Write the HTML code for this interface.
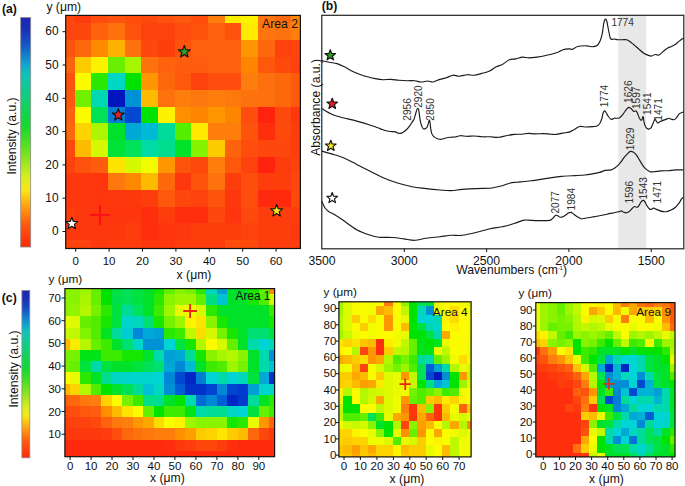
<!DOCTYPE html>
<html><head><meta charset="utf-8"><title>figure</title>
<style>html,body{margin:0;padding:0;background:#fff}svg{display:block}</style></head>
<body>
<svg width="685" height="486" viewBox="0 0 685 486" font-family="'Liberation Sans', sans-serif">
<defs><linearGradient id="cb" x1="0" y1="0" x2="0" y2="1">
<stop offset="0%" stop-color="#1a28b4"/>
<stop offset="5%" stop-color="#1a2eb8"/>
<stop offset="12%" stop-color="#1458c8"/>
<stop offset="21%" stop-color="#10a8d0"/>
<stop offset="25%" stop-color="#10c4b8"/>
<stop offset="36%" stop-color="#10d070"/>
<stop offset="47%" stop-color="#14d830"/>
<stop offset="55%" stop-color="#50e020"/>
<stop offset="62%" stop-color="#90e420"/>
<stop offset="69%" stop-color="#d4ec20"/>
<stop offset="75%" stop-color="#f8e818"/>
<stop offset="83%" stop-color="#ff9a10"/>
<stop offset="90%" stop-color="#ff5a10"/>
<stop offset="100%" stop-color="#ff2808"/>
</linearGradient><filter id="bl" x="-5%" y="-5%" width="110%" height="110%"><feGaussianBlur stdDeviation="0.7"/></filter></defs>
<rect width="685" height="486" fill="#fff"/>
<clipPath id="clipA"><rect x="65.70" y="15.40" width="234.70" height="233.10"/></clipPath>
<g clip-path="url(#clipA)"><g filter="url(#bl)" shape-rendering="crispEdges">
<rect x="62.70" y="12.40" width="240.70" height="239.10" fill="#55ee04"/>
<rect x="62.40" y="12.10" width="12.90" height="11.90" fill="#fe440a"/>
<rect x="74.70" y="12.10" width="17.25" height="11.90" fill="#fe3b0a"/>
<rect x="91.35" y="12.10" width="17.25" height="11.90" fill="#fe4e09"/>
<rect x="108.00" y="12.10" width="17.25" height="11.90" fill="#fe5309"/>
<rect x="124.65" y="12.10" width="17.25" height="11.90" fill="#fe4e09"/>
<rect x="141.30" y="12.10" width="17.25" height="11.90" fill="#fe4a09"/>
<rect x="157.95" y="12.10" width="17.25" height="11.90" fill="#fe5309"/>
<rect x="174.60" y="12.10" width="17.25" height="11.90" fill="#fe5908"/>
<rect x="191.25" y="12.10" width="17.25" height="11.90" fill="#fe4e09"/>
<rect x="207.90" y="12.10" width="17.25" height="11.90" fill="#fe7e07"/>
<rect x="224.55" y="12.10" width="17.25" height="11.90" fill="#fdec04"/>
<rect x="241.20" y="12.10" width="17.25" height="11.90" fill="#fdf304"/>
<rect x="257.85" y="12.10" width="17.25" height="11.90" fill="#fe7407"/>
<rect x="274.50" y="12.10" width="17.25" height="11.90" fill="#fe6808"/>
<rect x="291.15" y="12.10" width="12.55" height="11.90" fill="#fe8506"/>
<rect x="62.40" y="23.40" width="12.90" height="17.25" fill="#fe440a"/>
<rect x="74.70" y="23.40" width="17.25" height="17.25" fill="#fe4609"/>
<rect x="91.35" y="23.40" width="17.25" height="17.25" fill="#fe6208"/>
<rect x="108.00" y="23.40" width="17.25" height="17.25" fill="#fe7207"/>
<rect x="124.65" y="23.40" width="17.25" height="17.25" fill="#fe5309"/>
<rect x="141.30" y="23.40" width="33.90" height="17.25" fill="#fe420a"/>
<rect x="174.60" y="23.40" width="17.25" height="17.25" fill="#fe4e09"/>
<rect x="191.25" y="23.40" width="17.25" height="17.25" fill="#fe5309"/>
<rect x="207.90" y="23.40" width="17.25" height="17.25" fill="#fe6208"/>
<rect x="224.55" y="23.40" width="17.25" height="17.25" fill="#fe5309"/>
<rect x="241.20" y="23.40" width="17.25" height="17.25" fill="#fdec04"/>
<rect x="257.85" y="23.40" width="17.25" height="17.25" fill="#fe7407"/>
<rect x="274.50" y="23.40" width="17.25" height="17.25" fill="#fe7207"/>
<rect x="291.15" y="23.40" width="12.55" height="17.25" fill="#fe7e07"/>
<rect x="62.40" y="40.05" width="12.90" height="17.25" fill="#fe5309"/>
<rect x="74.70" y="40.05" width="17.25" height="17.25" fill="#fe6808"/>
<rect x="91.35" y="40.05" width="17.25" height="17.25" fill="#fe8a06"/>
<rect x="108.00" y="40.05" width="17.25" height="17.25" fill="#fdb204"/>
<rect x="124.65" y="40.05" width="17.25" height="17.25" fill="#fe7207"/>
<rect x="141.30" y="40.05" width="17.25" height="17.25" fill="#fe4609"/>
<rect x="157.95" y="40.05" width="17.25" height="17.25" fill="#fe3d0a"/>
<rect x="174.60" y="40.05" width="17.25" height="17.25" fill="#fe5309"/>
<rect x="191.25" y="40.05" width="50.55" height="17.25" fill="#fe6208"/>
<rect x="241.20" y="40.05" width="17.25" height="17.25" fill="#fd9606"/>
<rect x="257.85" y="40.05" width="17.25" height="17.25" fill="#fe6808"/>
<rect x="274.50" y="40.05" width="17.25" height="17.25" fill="#fe420a"/>
<rect x="291.15" y="40.05" width="12.55" height="17.25" fill="#fe440a"/>
<rect x="62.40" y="56.70" width="12.90" height="17.25" fill="#fe6208"/>
<rect x="74.70" y="56.70" width="17.25" height="17.25" fill="#fdcc04"/>
<rect x="91.35" y="56.70" width="17.25" height="17.25" fill="#fdf204"/>
<rect x="108.00" y="56.70" width="17.25" height="17.25" fill="#69f004"/>
<rect x="124.65" y="56.70" width="17.25" height="17.25" fill="#a7f604"/>
<rect x="141.30" y="56.70" width="17.25" height="17.25" fill="#fe7207"/>
<rect x="157.95" y="56.70" width="17.25" height="17.25" fill="#fe6208"/>
<rect x="174.60" y="56.70" width="33.90" height="17.25" fill="#fe5d08"/>
<rect x="207.90" y="56.70" width="33.90" height="17.25" fill="#fe6208"/>
<rect x="241.20" y="56.70" width="17.25" height="17.25" fill="#fe8506"/>
<rect x="257.85" y="56.70" width="17.25" height="17.25" fill="#fe5908"/>
<rect x="274.50" y="56.70" width="17.25" height="17.25" fill="#fe4a09"/>
<rect x="291.15" y="56.70" width="12.55" height="17.25" fill="#fe420a"/>
<rect x="62.40" y="73.35" width="12.90" height="17.25" fill="#fe5109"/>
<rect x="74.70" y="73.35" width="17.25" height="17.25" fill="#fcfc04"/>
<rect x="91.35" y="73.35" width="17.25" height="17.25" fill="#2ae803"/>
<rect x="108.00" y="73.35" width="17.25" height="17.25" fill="#03d6c4"/>
<rect x="124.65" y="73.35" width="17.25" height="17.25" fill="#03e303"/>
<rect x="141.30" y="73.35" width="17.25" height="17.25" fill="#fd9606"/>
<rect x="157.95" y="73.35" width="17.25" height="17.25" fill="#fe6808"/>
<rect x="174.60" y="73.35" width="17.25" height="17.25" fill="#fe5908"/>
<rect x="191.25" y="73.35" width="17.25" height="17.25" fill="#fe420a"/>
<rect x="207.90" y="73.35" width="33.90" height="17.25" fill="#fe4e09"/>
<rect x="241.20" y="73.35" width="17.25" height="17.25" fill="#fe7e07"/>
<rect x="257.85" y="73.35" width="17.25" height="17.25" fill="#fe7007"/>
<rect x="274.50" y="73.35" width="17.25" height="17.25" fill="#fe6808"/>
<rect x="291.15" y="73.35" width="12.55" height="17.25" fill="#fe5908"/>
<rect x="62.40" y="90.00" width="12.90" height="17.25" fill="#fe5908"/>
<rect x="74.70" y="90.00" width="17.25" height="17.25" fill="#71f104"/>
<rect x="91.35" y="90.00" width="17.25" height="17.25" fill="#03d8b4"/>
<rect x="108.00" y="90.00" width="17.25" height="17.25" fill="#0314bc"/>
<rect x="124.65" y="90.00" width="17.25" height="17.25" fill="#0392d5"/>
<rect x="141.30" y="90.00" width="17.25" height="17.25" fill="#fdbb04"/>
<rect x="157.95" y="90.00" width="17.25" height="17.25" fill="#fe7207"/>
<rect x="174.60" y="90.00" width="17.25" height="17.25" fill="#fe7e07"/>
<rect x="191.25" y="90.00" width="17.25" height="17.25" fill="#fe7907"/>
<rect x="207.90" y="90.00" width="17.25" height="17.25" fill="#fe7e07"/>
<rect x="224.55" y="90.00" width="17.25" height="17.25" fill="#fe7907"/>
<rect x="241.20" y="90.00" width="17.25" height="17.25" fill="#fe7207"/>
<rect x="257.85" y="90.00" width="17.25" height="17.25" fill="#fe7007"/>
<rect x="274.50" y="90.00" width="17.25" height="17.25" fill="#fe6808"/>
<rect x="291.15" y="90.00" width="12.55" height="17.25" fill="#fe5908"/>
<rect x="62.40" y="106.65" width="12.90" height="17.25" fill="#fe6008"/>
<rect x="74.70" y="106.65" width="17.25" height="17.25" fill="#fcfc04"/>
<rect x="91.35" y="106.65" width="17.25" height="17.25" fill="#03e159"/>
<rect x="108.00" y="106.65" width="17.25" height="17.25" fill="#037ed6"/>
<rect x="124.65" y="106.65" width="17.25" height="17.25" fill="#034ad0"/>
<rect x="141.30" y="106.65" width="17.25" height="17.25" fill="#03e303"/>
<rect x="157.95" y="106.65" width="17.25" height="17.25" fill="#fdf304"/>
<rect x="174.60" y="106.65" width="17.25" height="17.25" fill="#fe9006"/>
<rect x="191.25" y="106.65" width="17.25" height="17.25" fill="#fe8506"/>
<rect x="207.90" y="106.65" width="17.25" height="17.25" fill="#fd9606"/>
<rect x="224.55" y="106.65" width="17.25" height="17.25" fill="#fe8506"/>
<rect x="241.20" y="106.65" width="17.25" height="17.25" fill="#fe4e09"/>
<rect x="257.85" y="106.65" width="17.25" height="17.25" fill="#ff220b"/>
<rect x="274.50" y="106.65" width="17.25" height="17.25" fill="#fe4a09"/>
<rect x="291.15" y="106.65" width="12.55" height="17.25" fill="#fe380a"/>
<rect x="62.40" y="123.30" width="12.90" height="17.25" fill="#fe6808"/>
<rect x="74.70" y="123.30" width="17.25" height="17.25" fill="#fdd404"/>
<rect x="91.35" y="123.30" width="17.25" height="17.25" fill="#acf604"/>
<rect x="108.00" y="123.30" width="17.25" height="17.25" fill="#03e229"/>
<rect x="124.65" y="123.30" width="17.25" height="17.25" fill="#03a9d5"/>
<rect x="141.30" y="123.30" width="17.25" height="17.25" fill="#03b9d4"/>
<rect x="157.95" y="123.30" width="17.25" height="17.25" fill="#03db9c"/>
<rect x="174.60" y="123.30" width="17.25" height="17.25" fill="#55ee04"/>
<rect x="191.25" y="123.30" width="17.25" height="17.25" fill="#fdea04"/>
<rect x="207.90" y="123.30" width="33.90" height="17.25" fill="#fe7e07"/>
<rect x="241.20" y="123.30" width="17.25" height="17.25" fill="#fe5309"/>
<rect x="257.85" y="123.30" width="17.25" height="17.25" fill="#ff2f0b"/>
<rect x="274.50" y="123.30" width="17.25" height="17.25" fill="#fe4a09"/>
<rect x="291.15" y="123.30" width="12.55" height="17.25" fill="#fe3d0a"/>
<rect x="62.40" y="139.95" width="12.90" height="17.25" fill="#fe4609"/>
<rect x="74.70" y="139.95" width="17.25" height="17.25" fill="#fdbb04"/>
<rect x="91.35" y="139.95" width="17.25" height="17.25" fill="#d5f904"/>
<rect x="108.00" y="139.95" width="17.25" height="17.25" fill="#03e239"/>
<rect x="124.65" y="139.95" width="17.25" height="17.25" fill="#03e15c"/>
<rect x="141.30" y="139.95" width="17.25" height="17.25" fill="#03daa4"/>
<rect x="157.95" y="139.95" width="17.25" height="17.25" fill="#03dd8f"/>
<rect x="174.60" y="139.95" width="17.25" height="17.25" fill="#03e22a"/>
<rect x="191.25" y="139.95" width="17.25" height="17.25" fill="#85f304"/>
<rect x="207.90" y="139.95" width="17.25" height="17.25" fill="#fdcc04"/>
<rect x="224.55" y="139.95" width="17.25" height="17.25" fill="#fe6208"/>
<rect x="241.20" y="139.95" width="17.25" height="17.25" fill="#fe4e09"/>
<rect x="257.85" y="139.95" width="33.90" height="17.25" fill="#fe4609"/>
<rect x="291.15" y="139.95" width="12.55" height="17.25" fill="#fe3d0a"/>
<rect x="62.40" y="156.60" width="12.90" height="17.25" fill="#fe420a"/>
<rect x="74.70" y="156.60" width="17.25" height="17.25" fill="#fe5309"/>
<rect x="91.35" y="156.60" width="17.25" height="17.25" fill="#fe5d08"/>
<rect x="108.00" y="156.60" width="17.25" height="17.25" fill="#fde504"/>
<rect x="124.65" y="156.60" width="17.25" height="17.25" fill="#d4f904"/>
<rect x="141.30" y="156.60" width="17.25" height="17.25" fill="#f2fc04"/>
<rect x="157.95" y="156.60" width="17.25" height="17.25" fill="#fd9606"/>
<rect x="174.60" y="156.60" width="17.25" height="17.25" fill="#fe5309"/>
<rect x="191.25" y="156.60" width="17.25" height="17.25" fill="#fe4a09"/>
<rect x="207.90" y="156.60" width="17.25" height="17.25" fill="#fe7e07"/>
<rect x="224.55" y="156.60" width="17.25" height="17.25" fill="#fe5908"/>
<rect x="241.20" y="156.60" width="17.25" height="17.25" fill="#fe420a"/>
<rect x="257.85" y="156.60" width="17.25" height="17.25" fill="#ff220b"/>
<rect x="274.50" y="156.60" width="17.25" height="17.25" fill="#fe3d0a"/>
<rect x="291.15" y="156.60" width="12.55" height="17.25" fill="#fe420a"/>
<rect x="62.40" y="173.25" width="29.55" height="17.25" fill="#fe380a"/>
<rect x="91.35" y="173.25" width="17.25" height="17.25" fill="#ff340a"/>
<rect x="108.00" y="173.25" width="17.25" height="17.25" fill="#fe7807"/>
<rect x="124.65" y="173.25" width="17.25" height="17.25" fill="#fe8906"/>
<rect x="141.30" y="173.25" width="17.25" height="17.25" fill="#fdbb04"/>
<rect x="157.95" y="173.25" width="17.25" height="17.25" fill="#fe6808"/>
<rect x="174.60" y="173.25" width="17.25" height="17.25" fill="#fe380a"/>
<rect x="191.25" y="173.25" width="17.25" height="17.25" fill="#fe5309"/>
<rect x="207.90" y="173.25" width="17.25" height="17.25" fill="#fe7207"/>
<rect x="224.55" y="173.25" width="17.25" height="17.25" fill="#fe3d0a"/>
<rect x="241.20" y="173.25" width="17.25" height="17.25" fill="#fe4e09"/>
<rect x="257.85" y="173.25" width="33.90" height="17.25" fill="#fe3d0a"/>
<rect x="291.15" y="173.25" width="12.55" height="17.25" fill="#fe4609"/>
<rect x="62.40" y="189.90" width="29.55" height="17.25" fill="#fe380a"/>
<rect x="91.35" y="189.90" width="17.25" height="17.25" fill="#ff340a"/>
<rect x="108.00" y="189.90" width="33.90" height="17.25" fill="#fe380a"/>
<rect x="141.30" y="189.90" width="17.25" height="17.25" fill="#fe3d0a"/>
<rect x="157.95" y="189.90" width="17.25" height="17.25" fill="#fe5908"/>
<rect x="174.60" y="189.90" width="17.25" height="17.25" fill="#fe4609"/>
<rect x="191.25" y="189.90" width="17.25" height="17.25" fill="#fe420a"/>
<rect x="207.90" y="189.90" width="17.25" height="17.25" fill="#fe5309"/>
<rect x="224.55" y="189.90" width="17.25" height="17.25" fill="#fe380a"/>
<rect x="241.20" y="189.90" width="17.25" height="17.25" fill="#fe4e09"/>
<rect x="257.85" y="189.90" width="33.90" height="17.25" fill="#ff2a0b"/>
<rect x="291.15" y="189.90" width="12.55" height="17.25" fill="#fe4a09"/>
<rect x="62.40" y="206.55" width="12.90" height="17.25" fill="#fe3d0a"/>
<rect x="74.70" y="206.55" width="33.90" height="17.25" fill="#fe380a"/>
<rect x="108.00" y="206.55" width="33.90" height="17.25" fill="#ff340a"/>
<rect x="141.30" y="206.55" width="17.25" height="17.25" fill="#ff2f0b"/>
<rect x="157.95" y="206.55" width="17.25" height="17.25" fill="#fe3d0a"/>
<rect x="174.60" y="206.55" width="33.90" height="17.25" fill="#ff2f0b"/>
<rect x="207.90" y="206.55" width="17.25" height="17.25" fill="#fe4609"/>
<rect x="224.55" y="206.55" width="17.25" height="17.25" fill="#ff340a"/>
<rect x="241.20" y="206.55" width="17.25" height="17.25" fill="#fe4a09"/>
<rect x="257.85" y="206.55" width="45.85" height="17.25" fill="#fe3d0a"/>
<rect x="62.40" y="223.20" width="62.85" height="17.25" fill="#fe380a"/>
<rect x="124.65" y="223.20" width="17.25" height="17.25" fill="#fe3d0a"/>
<rect x="141.30" y="223.20" width="17.25" height="17.25" fill="#ff2f0b"/>
<rect x="157.95" y="223.20" width="17.25" height="17.25" fill="#ff340a"/>
<rect x="174.60" y="223.20" width="17.25" height="17.25" fill="#fe380a"/>
<rect x="191.25" y="223.20" width="50.55" height="17.25" fill="#fe3d0a"/>
<rect x="241.20" y="223.20" width="17.25" height="17.25" fill="#fe420a"/>
<rect x="257.85" y="223.20" width="33.90" height="17.25" fill="#fe3d0a"/>
<rect x="291.15" y="223.20" width="12.55" height="17.25" fill="#fe380a"/>
<rect x="62.40" y="239.85" width="29.55" height="11.95" fill="#fe420a"/>
<rect x="91.35" y="239.85" width="17.25" height="11.95" fill="#fe380a"/>
<rect x="108.00" y="239.85" width="33.90" height="11.95" fill="#fe3d0a"/>
<rect x="141.30" y="239.85" width="33.90" height="11.95" fill="#fe380a"/>
<rect x="174.60" y="239.85" width="50.55" height="11.95" fill="#fe3d0a"/>
<rect x="224.55" y="239.85" width="17.25" height="11.95" fill="#fe4e09"/>
<rect x="241.20" y="239.85" width="17.25" height="11.95" fill="#fe4a09"/>
<rect x="257.85" y="239.85" width="45.85" height="11.95" fill="#fe3d0a"/>
</g></g>
<rect x="65.7" y="15.4" width="234.7" height="233.1" fill="none" stroke="#111" stroke-width="1.2"/>
<path d="M62.5 231.5H65.7" stroke="#111" stroke-width="1"/>
<text x="58.6" y="235.2" text-anchor="end" font-size="11.9" font-weight="normal" fill="#111">0</text>
<path d="M75.7 248.5V251.7" stroke="#111" stroke-width="1"/>
<text x="75.7" y="265.3" text-anchor="middle" font-size="11.5" font-weight="normal" fill="#111">0</text>
<path d="M62.5 198.2H65.7" stroke="#111" stroke-width="1"/>
<text x="58.6" y="201.9" text-anchor="end" font-size="11.9" font-weight="normal" fill="#111">10</text>
<path d="M109.1 248.5V251.7" stroke="#111" stroke-width="1"/>
<text x="109.1" y="265.3" text-anchor="middle" font-size="11.5" font-weight="normal" fill="#111">10</text>
<path d="M62.5 164.9H65.7" stroke="#111" stroke-width="1"/>
<text x="58.6" y="168.6" text-anchor="end" font-size="11.9" font-weight="normal" fill="#111">20</text>
<path d="M142.5 248.5V251.7" stroke="#111" stroke-width="1"/>
<text x="142.5" y="265.3" text-anchor="middle" font-size="11.5" font-weight="normal" fill="#111">20</text>
<path d="M62.5 131.6H65.7" stroke="#111" stroke-width="1"/>
<text x="58.6" y="135.3" text-anchor="end" font-size="11.9" font-weight="normal" fill="#111">30</text>
<path d="M175.9 248.5V251.7" stroke="#111" stroke-width="1"/>
<text x="175.9" y="265.3" text-anchor="middle" font-size="11.5" font-weight="normal" fill="#111">30</text>
<path d="M62.5 98.3H65.7" stroke="#111" stroke-width="1"/>
<text x="58.6" y="102.0" text-anchor="end" font-size="11.9" font-weight="normal" fill="#111">40</text>
<path d="M209.3 248.5V251.7" stroke="#111" stroke-width="1"/>
<text x="209.3" y="265.3" text-anchor="middle" font-size="11.5" font-weight="normal" fill="#111">40</text>
<path d="M62.5 65.0H65.7" stroke="#111" stroke-width="1"/>
<text x="58.6" y="68.7" text-anchor="end" font-size="11.9" font-weight="normal" fill="#111">50</text>
<path d="M242.7 248.5V251.7" stroke="#111" stroke-width="1"/>
<text x="242.7" y="265.3" text-anchor="middle" font-size="11.5" font-weight="normal" fill="#111">50</text>
<path d="M62.5 31.7H65.7" stroke="#111" stroke-width="1"/>
<text x="58.6" y="35.4" text-anchor="end" font-size="11.9" font-weight="normal" fill="#111">60</text>
<path d="M276.1 248.5V251.7" stroke="#111" stroke-width="1"/>
<text x="276.1" y="265.3" text-anchor="middle" font-size="11.5" font-weight="normal" fill="#111">60</text>
<text x="46.4" y="10.6" text-anchor="start" font-size="12.2" font-weight="normal" fill="#111">y (μm)</text>
<text x="194.0" y="278.6" text-anchor="middle" font-size="12.2" font-weight="normal" fill="#111">x (μm)</text>
<text x="2.0" y="12.8" text-anchor="start" font-size="12.2" font-weight="bold" fill="#111">(a)</text>
<text x="298.0" y="28.0" text-anchor="end" font-size="12.2" font-weight="normal" fill="#111">Area 2</text>
<rect x="20.7" y="17.5" width="10" height="229.5" fill="url(#cb)" stroke="#8a8a8a" stroke-width="0.8"/>
<text transform="translate(16.3 136) rotate(-90)" text-anchor="middle" font-size="12.2" fill="#111">Intensity (a.u.)</text>
<path d="M89.9 215.0H109.9M99.9 205.0V225.0" stroke="#f8101a" stroke-width="2.0" fill="none"/>
<polygon points="71.80,217.30 73.36,221.46 77.79,221.65 74.32,224.42 75.50,228.70 71.80,226.25 68.10,228.70 69.28,224.42 65.81,221.65 70.24,221.46" fill="#ffffff" stroke="#111" stroke-width="1.15" stroke-linejoin="round"/>
<polygon points="276.60,204.50 278.16,208.66 282.59,208.85 279.12,211.62 280.30,215.90 276.60,213.45 272.90,215.90 274.08,211.62 270.61,208.85 275.04,208.66" fill="#f5e61e" stroke="#111" stroke-width="1.15" stroke-linejoin="round"/>
<polygon points="118.30,108.70 119.86,112.86 124.29,113.05 120.82,115.82 122.00,120.10 118.30,117.65 114.60,120.10 115.78,115.82 112.31,113.05 116.74,112.86" fill="#e8202a" stroke="#111" stroke-width="1.15" stroke-linejoin="round"/>
<polygon points="184.30,45.50 185.86,49.66 190.29,49.85 186.82,52.62 188.00,56.90 184.30,54.45 180.60,56.90 181.78,52.62 178.31,49.85 182.74,49.66" fill="#2f9e1e" stroke="#111" stroke-width="1.15" stroke-linejoin="round"/>
<rect x="618.4" y="15.3" width="27.8" height="233.5" fill="#e8e8e8"/>
<path d="M321.7 60.5C322.9 60.8 326.6 61.8 329.2 62.3C331.8 62.8 334.5 62.8 337.1 63.6C339.7 64.4 342.4 65.8 345.0 67.1C347.6 68.4 350.4 70.3 352.8 71.5C355.2 72.7 357.0 73.3 359.4 74.2C361.8 75.1 364.7 76.1 367.3 76.8C369.9 77.5 372.6 78.1 375.2 78.6C377.8 79.1 380.5 79.6 383.1 79.7C385.7 79.8 388.3 79.3 390.9 79.4C393.5 79.5 396.2 80.0 398.8 80.2C401.4 80.4 404.1 80.6 406.7 80.7C409.3 80.8 412.2 80.5 414.6 80.7C417.0 80.9 419.0 82.0 421.2 82.0C423.4 82.0 425.7 81.0 427.7 81.0C429.7 81.0 431.0 82.3 433.0 82.0C435.0 81.7 437.5 80.1 439.7 79.4C441.9 78.7 444.1 78.5 446.3 77.8C448.5 77.1 450.6 75.5 452.8 75.2C455.0 74.9 457.0 76.3 459.4 76.2C461.8 76.1 464.9 74.9 467.3 74.7C469.7 74.5 471.5 75.4 473.9 75.2C476.3 75.0 479.1 74.1 481.7 73.4C484.3 72.7 487.2 72.1 489.6 71.0C492.0 69.9 494.0 67.9 496.2 66.8C498.4 65.7 500.6 65.4 502.8 64.2C505.0 63.0 507.1 60.6 509.3 59.7C511.5 58.8 513.7 59.3 515.9 58.9C518.1 58.5 520.3 57.3 522.5 57.1C524.7 56.9 526.6 57.9 529.0 57.9C531.4 57.9 534.3 57.5 536.9 57.1C539.5 56.7 542.4 56.2 544.8 55.7C547.2 55.2 549.2 54.8 551.4 54.2C553.6 53.6 555.9 53.0 557.9 52.3C559.9 51.5 561.2 50.3 563.2 49.7C565.2 49.1 568.3 49.0 569.8 48.9C571.3 48.8 571.1 49.8 572.4 49.4C573.7 49.0 575.5 47.1 577.6 46.5C579.7 45.9 583.0 45.7 585.0 45.7C587.0 45.7 588.1 46.1 589.4 46.3C590.7 46.5 591.7 46.9 593.0 46.7C594.3 46.5 596.2 46.3 597.4 45.3C598.6 44.3 599.5 42.4 600.3 40.5C601.1 38.6 601.6 36.7 602.2 33.9C602.8 31.1 603.2 26.1 603.7 23.7C604.2 21.3 604.5 20.3 604.9 19.6C605.3 18.9 605.7 19.0 606.0 19.3C606.3 19.6 606.5 19.8 606.9 21.5C607.3 23.2 607.9 26.8 608.4 29.5C608.9 32.2 609.6 35.9 610.1 37.5C610.6 39.1 610.9 39.1 611.6 39.4C612.3 39.6 613.2 39.0 614.2 39.0C615.2 39.0 616.5 39.6 617.8 39.7C619.1 39.8 620.7 39.7 622.2 39.7C623.7 39.7 625.4 39.5 626.6 39.7C627.8 40.0 628.3 40.4 629.5 41.2C630.7 42.1 632.3 43.5 633.9 44.8C635.5 46.1 637.4 47.9 639.0 49.2C640.6 50.6 641.9 51.9 643.4 52.9C644.9 53.9 646.5 54.6 647.8 55.1C649.1 55.6 650.3 56.2 651.4 56.1C652.5 56.0 653.4 55.0 654.3 54.8C655.1 54.5 655.8 54.5 656.5 54.6C657.2 54.7 657.7 55.4 658.4 55.2C659.1 55.0 659.9 54.4 660.9 53.6C661.9 52.8 663.4 51.2 664.6 50.2C665.8 49.2 667.1 48.4 668.2 47.8C669.3 47.2 670.0 47.2 671.1 46.7C672.2 46.2 673.6 45.6 674.8 44.8C676.0 44.0 677.3 42.8 678.4 41.9C679.5 41.0 680.5 40.0 681.4 39.4C682.3 38.8 683.2 38.2 683.6 38.0" fill="none" stroke="#1a1a1a" stroke-width="1.15" stroke-linejoin="round"/>
<path d="M321.7 108.6C323.4 109.5 328.2 112.7 331.7 114.2C335.2 115.7 338.6 116.7 342.8 117.8C347.0 118.9 352.1 119.8 356.7 121.1C361.3 122.3 366.7 124.0 370.6 125.3C374.5 126.5 377.6 127.7 380.0 128.6C382.4 129.5 383.3 130.0 385.0 130.5C386.7 131.0 388.4 131.3 390.1 131.5C391.8 131.7 393.9 131.6 395.3 131.9C396.7 132.2 397.4 133.1 398.4 133.3C399.4 133.5 400.3 133.6 401.5 133.1C402.7 132.6 404.2 131.7 405.6 130.5C407.0 129.3 408.6 127.4 409.7 125.9C410.8 124.5 411.6 122.8 412.3 121.8C413.0 120.8 413.3 120.9 413.8 119.7C414.3 118.5 414.9 116.3 415.4 114.6C415.9 112.9 416.5 110.5 416.9 109.4C417.3 108.3 417.4 108.2 417.7 108.2C418.0 108.2 418.3 108.2 418.6 109.4C418.9 110.6 419.2 113.5 419.5 115.6C419.8 117.7 420.1 119.9 420.5 121.8C420.9 123.7 421.6 125.7 422.1 126.9C422.6 128.1 423.0 128.7 423.6 129.0C424.2 129.3 425.1 128.8 425.7 128.5C426.3 128.2 426.8 127.7 427.2 126.9C427.6 126.1 427.9 124.8 428.2 123.8C428.5 122.8 428.9 121.3 429.1 120.7C429.3 120.1 429.3 119.9 429.5 120.2C429.7 120.5 429.9 121.3 430.1 122.8C430.3 124.3 430.5 127.2 430.8 129.0C431.1 130.8 431.3 132.3 431.8 133.6C432.3 134.9 432.9 135.8 433.9 136.7C434.8 137.6 436.2 138.4 437.5 138.8C438.8 139.2 440.1 139.5 441.6 139.3C443.2 139.1 445.2 138.0 446.8 137.7C448.4 137.3 449.5 137.3 450.9 137.2C452.3 137.1 453.4 137.2 455.0 137.0C456.6 136.8 458.2 135.8 460.2 135.7C462.2 135.6 464.4 136.2 466.8 136.3C469.2 136.4 472.1 135.9 474.7 136.0C477.3 136.1 479.9 136.7 482.5 136.8C485.1 136.9 487.8 136.7 490.4 136.8C493.0 136.9 495.7 137.5 498.3 137.3C500.9 137.1 503.6 136.2 506.2 135.7C508.8 135.2 511.5 134.7 514.1 134.4C516.7 134.2 519.6 134.4 522.0 134.2C524.4 134.0 526.3 133.4 528.5 133.4C530.7 133.4 532.7 133.9 535.1 133.9C537.5 133.9 540.4 133.6 543.0 133.6C545.6 133.6 548.7 134.1 550.9 134.2C553.1 134.3 554.1 134.6 556.1 134.4C558.1 134.2 560.5 133.5 562.7 133.1C564.9 132.7 567.3 132.7 569.3 132.1C571.3 131.5 572.8 130.3 574.5 129.4C576.2 128.5 577.8 126.9 579.8 126.5C581.8 126.1 584.1 127.0 586.3 127.0C588.5 127.0 591.1 126.8 592.9 126.6C594.7 126.4 595.9 126.5 597.0 126.0C598.1 125.5 598.8 125.0 599.6 123.8C600.4 122.6 601.2 120.5 601.8 118.7C602.4 116.9 602.7 114.1 603.2 112.8C603.7 111.5 604.2 110.9 604.7 110.9C605.2 110.9 605.6 111.9 606.2 112.8C606.8 113.7 607.5 115.4 608.4 116.5C609.2 117.6 610.3 119.1 611.3 119.4C612.3 119.7 612.9 118.4 614.2 118.2C615.5 118.0 617.8 118.7 619.3 118.0C620.8 117.3 621.8 115.8 623.0 114.3C624.2 112.8 625.6 110.3 626.6 109.2C627.6 108.1 628.1 107.5 628.8 107.4C629.5 107.3 630.1 107.8 631.0 108.5C631.9 109.2 633.0 111.0 633.9 111.4C634.8 111.8 635.5 110.5 636.1 110.9C636.7 111.3 637.0 112.3 637.6 113.6C638.2 114.9 639.0 117.6 639.7 118.7C640.4 119.8 641.0 120.5 641.6 120.1C642.2 119.7 642.7 116.1 643.1 116.5C643.5 116.9 643.7 120.6 644.1 122.3C644.5 124.0 645.0 125.6 645.6 126.7C646.2 127.8 646.9 128.7 647.8 128.9C648.6 129.2 649.9 129.0 650.7 128.2C651.6 127.3 652.2 125.3 652.9 123.8C653.6 122.3 654.2 119.9 654.8 119.4C655.3 118.9 655.7 120.3 656.2 120.9C656.7 121.5 657.3 123.0 658.0 123.1C658.7 123.2 659.2 122.1 660.2 121.6C661.2 121.1 662.8 120.5 663.8 120.1C664.8 119.7 665.1 119.7 666.0 119.4C666.9 119.1 668.0 118.2 668.9 118.2C669.8 118.2 670.2 118.8 671.1 119.1C672.0 119.3 673.2 119.9 674.1 119.7C675.0 119.5 675.4 119.0 676.2 118.0C677.1 117.0 678.3 114.8 679.2 113.9C680.1 113.0 680.7 113.1 681.4 112.8C682.1 112.5 683.2 112.1 683.6 112.0" fill="none" stroke="#1a1a1a" stroke-width="1.15" stroke-linejoin="round"/>
<path d="M321.7 151.1C323.4 151.6 328.2 152.8 331.7 153.9C335.2 155.0 338.6 155.8 342.8 157.5C347.0 159.2 352.1 162.1 356.7 164.4C361.3 166.7 366.0 169.1 370.6 171.4C375.2 173.7 379.8 176.3 384.4 178.3C389.0 180.3 393.7 181.9 398.3 183.3C402.9 184.7 407.6 185.8 412.2 186.7C416.8 187.6 421.5 188.0 426.1 188.6C430.7 189.2 435.8 189.7 440.0 190.0C444.2 190.3 447.4 190.7 451.1 190.6C454.8 190.5 458.0 189.7 462.2 189.4C466.4 189.1 471.5 188.8 476.1 188.6C480.7 188.4 486.9 188.4 490.0 188.2C493.1 188.0 492.9 187.7 495.0 187.3C497.1 186.9 499.9 186.5 502.3 185.8C504.7 185.1 507.2 183.8 509.6 183.2C512.0 182.6 514.5 182.5 516.9 182.2C519.3 181.9 521.8 181.8 524.2 181.5C526.6 181.2 527.7 181.2 531.5 180.7C535.3 180.2 541.9 179.1 546.9 178.4C551.9 177.7 556.5 176.9 561.2 176.4C566.0 175.9 571.4 175.8 575.4 175.6C579.4 175.4 582.2 175.3 585.0 175.0C587.8 174.7 589.9 174.3 592.3 173.9C594.7 173.5 597.4 173.0 599.6 172.4C601.8 171.8 603.5 170.8 605.4 170.4C607.3 170.0 609.6 170.4 611.3 169.9C613.0 169.4 614.2 168.5 615.7 167.4C617.2 166.3 618.5 164.8 620.0 163.1C621.5 161.4 623.0 158.9 624.4 157.2C625.8 155.5 627.1 154.1 628.1 153.1C629.1 152.1 629.6 151.6 630.5 151.4C631.4 151.2 632.3 151.5 633.2 152.0C634.1 152.5 635.0 153.2 636.1 154.6C637.2 156.0 638.5 158.4 639.7 160.4C640.9 162.4 642.2 164.7 643.4 166.3C644.6 167.9 645.9 169.0 647.0 169.9C648.1 170.8 648.9 171.4 650.0 171.7C651.1 172.0 651.8 171.9 653.6 171.8C655.4 171.7 658.5 171.1 660.9 170.9C663.3 170.7 665.8 170.9 668.2 170.7C670.6 170.5 672.9 170.0 675.5 169.9C678.1 169.8 682.2 169.9 683.6 169.9" fill="none" stroke="#1a1a1a" stroke-width="1.15" stroke-linejoin="round"/>
<path d="M321.7 201.1C322.2 202.2 323.5 205.7 324.7 207.5C325.9 209.3 327.3 210.5 328.9 211.7C330.5 212.8 332.1 213.0 334.4 214.4C336.7 215.8 339.1 217.4 342.8 220.0C346.5 222.6 352.1 227.1 356.7 229.7C361.3 232.2 366.9 234.1 370.6 235.3C374.3 236.6 375.2 236.8 378.9 237.2C382.6 237.6 388.6 237.2 392.8 237.5C397.0 237.8 400.2 238.4 403.9 238.9C407.6 239.4 411.3 240.4 415.0 240.3C418.7 240.2 421.9 238.9 426.1 238.3C430.3 237.7 435.8 237.2 440.0 236.7C444.2 236.2 447.4 235.5 451.1 235.3C454.8 235.1 458.0 235.8 462.2 235.3C466.4 234.8 471.5 233.6 476.1 232.5C480.7 231.4 486.9 229.5 490.0 228.7C493.1 227.9 492.9 228.2 495.0 227.9C497.1 227.6 499.9 227.2 502.3 226.7C504.7 226.2 507.2 225.7 509.6 225.0C512.0 224.3 514.5 223.4 516.9 222.6C519.3 221.8 521.8 220.5 524.2 220.1C526.6 219.7 529.1 220.3 531.5 220.4C533.9 220.5 536.4 220.6 538.8 220.6C541.2 220.6 544.1 220.7 546.1 220.6C548.1 220.5 549.3 220.6 550.5 220.1C551.7 219.6 552.5 218.5 553.4 217.7C554.2 216.9 554.9 215.6 555.6 215.3C556.3 215.0 557.1 215.5 557.8 215.8C558.5 216.1 559.1 217.0 560.0 217.2C560.9 217.4 561.9 217.2 562.9 216.8C563.9 216.4 564.8 215.7 565.8 215.0C566.8 214.3 567.9 213.2 568.7 212.8C569.6 212.4 570.2 212.3 570.9 212.4C571.6 212.5 572.1 212.9 573.1 213.6C574.1 214.3 575.5 215.7 576.8 216.5C578.1 217.3 579.7 218.4 581.1 218.7C582.5 219.0 583.1 218.5 585.0 218.2C586.9 217.9 589.9 217.4 592.3 217.0C594.7 216.6 597.2 216.2 599.6 215.7C602.0 215.2 604.5 214.7 606.9 214.2C609.3 213.7 612.1 213.2 614.2 212.8C616.3 212.4 618.1 211.9 619.3 211.6C620.5 211.3 620.8 210.8 621.5 210.9C622.2 211.0 622.9 212.0 623.7 212.3C624.6 212.6 625.6 213.0 626.6 212.8C627.6 212.6 628.5 212.1 629.5 211.3C630.5 210.5 631.5 209.0 632.4 208.2C633.2 207.4 633.9 206.7 634.6 206.5C635.3 206.3 635.8 207.2 636.4 207.2C637.0 207.2 637.6 207.2 638.3 206.5C639.0 205.8 639.9 203.8 640.5 202.8C641.1 201.8 641.7 201.1 642.2 200.7C642.7 200.3 643.2 200.2 643.7 200.4C644.2 200.6 644.6 201.2 645.1 202.1C645.6 203.0 646.3 204.7 647.0 205.8C647.7 206.9 648.5 208.1 649.2 208.7C649.9 209.3 650.4 209.4 651.0 209.4C651.6 209.4 652.4 208.6 652.9 208.4C653.4 208.2 653.7 208.0 654.3 208.2C654.9 208.4 655.6 209.0 656.5 209.4C657.4 209.8 658.4 210.2 659.5 210.6C660.6 211.0 661.9 211.4 663.1 211.6C664.3 211.8 665.5 211.8 666.8 211.6C668.1 211.3 669.6 210.8 671.1 210.1C672.6 209.4 674.1 208.4 675.5 207.2C676.9 206.0 678.2 204.1 679.2 202.8C680.2 201.5 680.7 200.2 681.4 199.2C682.1 198.2 683.2 197.4 683.6 197.0" fill="none" stroke="#1a1a1a" stroke-width="1.15" stroke-linejoin="round"/>
<rect x="321.8" y="15.3" width="362" height="233.5" fill="none" stroke="#222" stroke-width="1.2"/>
<text x="322.0" y="264.6" text-anchor="middle" font-size="12.2" font-weight="normal" fill="#111">3500</text>
<path d="M404.3 248.8V252" stroke="#111" stroke-width="1"/>
<text x="404.3" y="264.6" text-anchor="middle" font-size="12.2" font-weight="normal" fill="#111">3000</text>
<path d="M486.6 248.8V252" stroke="#111" stroke-width="1"/>
<text x="486.6" y="264.6" text-anchor="middle" font-size="12.2" font-weight="normal" fill="#111">2500</text>
<path d="M568.9 248.8V252" stroke="#111" stroke-width="1"/>
<text x="568.9" y="264.6" text-anchor="middle" font-size="12.2" font-weight="normal" fill="#111">2000</text>
<path d="M651.2 248.8V252" stroke="#111" stroke-width="1"/>
<text x="651.2" y="264.6" text-anchor="middle" font-size="12.2" font-weight="normal" fill="#111">1500</text>
<text x="456.2" y="274.2" font-size="12.2" fill="#111">Wavenumbers (cm<tspan font-size="5.5" dy="-4.5">-1</tspan><tspan dy="4.5">)</tspan></text>
<text transform="translate(320.2 107.4) rotate(-90)" text-anchor="middle" font-size="12.2" fill="#111">Absorbance (a.u.)</text>
<text x="321.8" y="10.2" text-anchor="start" font-size="12.2" font-weight="bold" fill="#111">(b)</text>
<polygon points="330.30,49.70 331.68,53.40 335.63,53.57 332.54,56.03 333.59,59.83 330.30,57.65 327.01,59.83 328.06,56.03 324.97,53.57 328.92,53.40" fill="#2f9e1e" stroke="#111" stroke-width="1.15" stroke-linejoin="round"/>
<polygon points="332.20,98.30 333.58,102.00 337.53,102.17 334.44,104.63 335.49,108.43 332.20,106.25 328.91,108.43 329.96,104.63 326.87,102.17 330.82,102.00" fill="#e8202a" stroke="#111" stroke-width="1.15" stroke-linejoin="round"/>
<polygon points="330.80,140.30 332.18,144.00 336.13,144.17 333.04,146.63 334.09,150.43 330.80,148.25 327.51,150.43 328.56,146.63 325.47,144.17 329.42,144.00" fill="#f5e61e" stroke="#111" stroke-width="1.15" stroke-linejoin="round"/>
<polygon points="332.20,192.50 333.58,196.20 337.53,196.37 334.44,198.83 335.49,202.63 332.20,200.45 328.91,202.63 329.96,198.83 326.87,196.37 330.82,196.20" fill="#ffffff" stroke="#111" stroke-width="1.15" stroke-linejoin="round"/>
<text x="611.4" y="26.0" text-anchor="start" font-size="10.1" font-weight="normal" fill="#333">1774</text>
<text transform="translate(410.7 120.7) rotate(-90)" font-size="10.1" fill="#333">2956</text>
<text transform="translate(422.0 107.8) rotate(-90)" font-size="10.1" fill="#333">2920</text>
<text transform="translate(433.9 120.7) rotate(-90)" font-size="10.1" fill="#333">2850</text>
<text transform="translate(607.6 107.3) rotate(-90)" font-size="10.1" fill="#333">1774</text>
<text transform="translate(632.1 102.9) rotate(-90)" font-size="10.1" fill="#333">1626</text>
<text transform="translate(639.7 109.0) rotate(-90)" font-size="10.1" fill="#333">1597</text>
<text transform="translate(651.1 114.9) rotate(-90)" font-size="10.1" fill="#333">1541</text>
<text transform="translate(662.2 120.7) rotate(-90)" font-size="10.1" fill="#333">1471</text>
<text transform="translate(634.0 150.2) rotate(-90)" font-size="10.1" fill="#333">1629</text>
<text transform="translate(559.2 213.6) rotate(-90)" font-size="10.1" fill="#333">2077</text>
<text transform="translate(574.9 210.4) rotate(-90)" font-size="10.1" fill="#333">1984</text>
<text transform="translate(633.2 203.4) rotate(-90)" font-size="10.1" fill="#333">1596</text>
<text transform="translate(647.3 199.5) rotate(-90)" font-size="10.1" fill="#333">1543</text>
<text transform="translate(661.0 203.4) rotate(-90)" font-size="10.1" fill="#333">1471</text>
<clipPath id="clipC1"><rect x="64.90" y="288.60" width="209.70" height="168.10"/></clipPath>
<g clip-path="url(#clipC1)"><g filter="url(#bl)" shape-rendering="crispEdges">
<rect x="61.90" y="285.60" width="215.70" height="174.10" fill="#0387d6"/>
<rect x="61.60" y="285.30" width="19.32" height="9.20" fill="#8af304"/>
<rect x="80.33" y="285.30" width="11.08" height="9.20" fill="#9ef504"/>
<rect x="90.81" y="285.30" width="11.08" height="9.20" fill="#66f004"/>
<rect x="101.30" y="285.30" width="11.08" height="9.20" fill="#03e303"/>
<rect x="111.78" y="285.30" width="11.08" height="9.20" fill="#03e240"/>
<rect x="122.27" y="285.30" width="11.09" height="9.20" fill="#03e154"/>
<rect x="132.75" y="285.30" width="11.08" height="9.20" fill="#03e240"/>
<rect x="143.23" y="285.30" width="11.08" height="9.20" fill="#03e22a"/>
<rect x="153.72" y="285.30" width="11.09" height="9.20" fill="#16e603"/>
<rect x="164.20" y="285.30" width="11.09" height="9.20" fill="#62ef04"/>
<rect x="174.69" y="285.30" width="11.08" height="9.20" fill="#8af304"/>
<rect x="185.17" y="285.30" width="11.08" height="9.20" fill="#76f204"/>
<rect x="195.66" y="285.30" width="11.09" height="9.20" fill="#2ae803"/>
<rect x="206.14" y="285.30" width="11.09" height="9.20" fill="#03d7bb"/>
<rect x="216.63" y="285.30" width="11.08" height="9.20" fill="#03a0d5"/>
<rect x="227.11" y="285.30" width="21.57" height="9.20" fill="#03e22a"/>
<rect x="248.08" y="285.30" width="11.09" height="9.20" fill="#16e603"/>
<rect x="258.57" y="285.30" width="11.08" height="9.20" fill="#62ef04"/>
<rect x="269.05" y="285.30" width="8.85" height="9.20" fill="#fe8506"/>
<rect x="61.60" y="293.90" width="19.32" height="11.80" fill="#8af304"/>
<rect x="80.33" y="293.90" width="11.08" height="11.80" fill="#a8f604"/>
<rect x="90.81" y="293.90" width="11.08" height="11.80" fill="#66f004"/>
<rect x="101.30" y="293.90" width="11.08" height="11.80" fill="#03e303"/>
<rect x="111.78" y="293.90" width="11.08" height="11.80" fill="#03e14a"/>
<rect x="122.27" y="293.90" width="11.09" height="11.80" fill="#03e154"/>
<rect x="132.75" y="293.90" width="11.08" height="11.80" fill="#03e240"/>
<rect x="143.23" y="293.90" width="11.08" height="11.80" fill="#03e22a"/>
<rect x="153.72" y="293.90" width="11.09" height="11.80" fill="#2ae803"/>
<rect x="164.20" y="293.90" width="11.09" height="11.80" fill="#8af304"/>
<rect x="174.69" y="293.90" width="21.57" height="11.80" fill="#9ef504"/>
<rect x="195.66" y="293.90" width="11.09" height="11.80" fill="#62ef04"/>
<rect x="206.14" y="293.90" width="11.09" height="11.80" fill="#03de83"/>
<rect x="216.63" y="293.90" width="11.08" height="11.80" fill="#03c3d4"/>
<rect x="227.11" y="293.90" width="21.57" height="11.80" fill="#03e22a"/>
<rect x="248.08" y="293.90" width="11.09" height="11.80" fill="#16e603"/>
<rect x="258.57" y="293.90" width="11.08" height="11.80" fill="#51ed04"/>
<rect x="269.05" y="293.90" width="8.85" height="11.80" fill="#d4f904"/>
<rect x="61.60" y="305.10" width="8.84" height="11.80" fill="#8af304"/>
<rect x="69.84" y="305.10" width="11.08" height="11.80" fill="#94f404"/>
<rect x="80.33" y="305.10" width="11.08" height="11.80" fill="#b3f704"/>
<rect x="90.81" y="305.10" width="11.08" height="11.80" fill="#76f204"/>
<rect x="101.30" y="305.10" width="11.08" height="11.80" fill="#2ae803"/>
<rect x="111.78" y="305.10" width="11.08" height="11.80" fill="#03e23d"/>
<rect x="122.27" y="305.10" width="11.09" height="11.80" fill="#03dc94"/>
<rect x="132.75" y="305.10" width="11.08" height="11.80" fill="#03e15c"/>
<rect x="143.23" y="305.10" width="11.08" height="11.80" fill="#03e22a"/>
<rect x="153.72" y="305.10" width="11.09" height="11.80" fill="#3deb04"/>
<rect x="164.20" y="305.10" width="11.09" height="11.80" fill="#9ef504"/>
<rect x="174.69" y="305.10" width="11.08" height="11.80" fill="#e8fb04"/>
<rect x="185.17" y="305.10" width="11.08" height="11.80" fill="#f2fc04"/>
<rect x="195.66" y="305.10" width="11.09" height="11.80" fill="#d4f904"/>
<rect x="206.14" y="305.10" width="11.09" height="11.80" fill="#2ae803"/>
<rect x="216.63" y="305.10" width="53.02" height="11.80" fill="#03e22a"/>
<rect x="269.05" y="305.10" width="8.85" height="11.80" fill="#3deb04"/>
<rect x="61.60" y="316.30" width="8.84" height="11.80" fill="#e8fb04"/>
<rect x="69.84" y="316.30" width="11.08" height="11.80" fill="#defa04"/>
<rect x="80.33" y="316.30" width="11.08" height="11.80" fill="#66f004"/>
<rect x="90.81" y="316.30" width="11.08" height="11.80" fill="#51ed04"/>
<rect x="101.30" y="316.30" width="11.08" height="11.80" fill="#16e603"/>
<rect x="111.78" y="316.30" width="11.08" height="11.80" fill="#03e23d"/>
<rect x="122.27" y="316.30" width="11.09" height="11.80" fill="#03d5cc"/>
<rect x="132.75" y="316.30" width="11.08" height="11.80" fill="#03d7bb"/>
<rect x="143.23" y="316.30" width="11.08" height="11.80" fill="#03e072"/>
<rect x="153.72" y="316.30" width="11.09" height="11.80" fill="#16e603"/>
<rect x="164.20" y="316.30" width="11.09" height="11.80" fill="#76f204"/>
<rect x="174.69" y="316.30" width="11.08" height="11.80" fill="#9ef504"/>
<rect x="185.17" y="316.30" width="11.08" height="11.80" fill="#fdf304"/>
<rect x="195.66" y="316.30" width="11.09" height="11.80" fill="#fde304"/>
<rect x="206.14" y="316.30" width="11.09" height="11.80" fill="#8af304"/>
<rect x="216.63" y="316.30" width="11.08" height="11.80" fill="#16e603"/>
<rect x="227.11" y="316.30" width="42.54" height="11.80" fill="#03e22a"/>
<rect x="269.05" y="316.30" width="8.85" height="11.80" fill="#16e603"/>
<rect x="61.60" y="327.50" width="8.84" height="11.80" fill="#c9f904"/>
<rect x="69.84" y="327.50" width="11.08" height="11.80" fill="#bff804"/>
<rect x="80.33" y="327.50" width="11.08" height="11.80" fill="#80f304"/>
<rect x="90.81" y="327.50" width="11.08" height="11.80" fill="#51ed04"/>
<rect x="101.30" y="327.50" width="11.08" height="11.80" fill="#03e220"/>
<rect x="111.78" y="327.50" width="11.08" height="11.80" fill="#03db9a"/>
<rect x="122.27" y="327.50" width="11.09" height="11.80" fill="#03cbd4"/>
<rect x="132.75" y="327.50" width="11.08" height="11.80" fill="#0387d6"/>
<rect x="143.23" y="327.50" width="11.08" height="11.80" fill="#03a9d5"/>
<rect x="153.72" y="327.50" width="11.09" height="11.80" fill="#03a0d5"/>
<rect x="164.20" y="327.50" width="11.09" height="11.80" fill="#2ae803"/>
<rect x="174.69" y="327.50" width="11.08" height="11.80" fill="#3deb04"/>
<rect x="185.17" y="327.50" width="11.08" height="11.80" fill="#bff804"/>
<rect x="195.66" y="327.50" width="11.09" height="11.80" fill="#fddc04"/>
<rect x="206.14" y="327.50" width="11.09" height="11.80" fill="#d4f904"/>
<rect x="216.63" y="327.50" width="11.08" height="11.80" fill="#76f204"/>
<rect x="227.11" y="327.50" width="11.09" height="11.80" fill="#16e603"/>
<rect x="237.60" y="327.50" width="11.09" height="11.80" fill="#03e22a"/>
<rect x="248.08" y="327.50" width="21.57" height="11.80" fill="#03e072"/>
<rect x="269.05" y="327.50" width="8.85" height="11.80" fill="#03e23d"/>
<rect x="61.60" y="338.70" width="8.84" height="11.80" fill="#fdbb04"/>
<rect x="69.84" y="338.70" width="11.08" height="11.80" fill="#fdeb04"/>
<rect x="80.33" y="338.70" width="11.08" height="11.80" fill="#b5f704"/>
<rect x="90.81" y="338.70" width="11.08" height="11.80" fill="#66f004"/>
<rect x="101.30" y="338.70" width="11.08" height="11.80" fill="#3deb04"/>
<rect x="111.78" y="338.70" width="11.08" height="11.80" fill="#03e22a"/>
<rect x="122.27" y="338.70" width="11.09" height="11.80" fill="#03e072"/>
<rect x="132.75" y="338.70" width="11.08" height="11.80" fill="#03d5cc"/>
<rect x="143.23" y="338.70" width="21.57" height="11.80" fill="#0392d5"/>
<rect x="164.20" y="338.70" width="11.09" height="11.80" fill="#03d4d4"/>
<rect x="174.69" y="338.70" width="11.08" height="11.80" fill="#03e23d"/>
<rect x="185.17" y="338.70" width="11.08" height="11.80" fill="#16e603"/>
<rect x="195.66" y="338.70" width="11.09" height="11.80" fill="#b3f704"/>
<rect x="206.14" y="338.70" width="11.09" height="11.80" fill="#fcfc04"/>
<rect x="216.63" y="338.70" width="11.08" height="11.80" fill="#d4f904"/>
<rect x="227.11" y="338.70" width="11.09" height="11.80" fill="#66f004"/>
<rect x="237.60" y="338.70" width="11.09" height="11.80" fill="#03e22a"/>
<rect x="248.08" y="338.70" width="11.09" height="11.80" fill="#03d9ab"/>
<rect x="258.57" y="338.70" width="11.08" height="11.80" fill="#03d4d4"/>
<rect x="269.05" y="338.70" width="8.85" height="11.80" fill="#03d9ab"/>
<rect x="61.60" y="349.90" width="19.32" height="11.80" fill="#76f204"/>
<rect x="80.33" y="349.90" width="21.57" height="11.80" fill="#03e317"/>
<rect x="101.30" y="349.90" width="21.57" height="11.80" fill="#3deb04"/>
<rect x="122.27" y="349.90" width="21.57" height="11.80" fill="#16e603"/>
<rect x="143.23" y="349.90" width="11.08" height="11.80" fill="#03e22a"/>
<rect x="153.72" y="349.90" width="11.09" height="11.80" fill="#03d9ab"/>
<rect x="164.20" y="349.90" width="11.09" height="11.80" fill="#03a0d5"/>
<rect x="174.69" y="349.90" width="11.08" height="11.80" fill="#03a9d5"/>
<rect x="185.17" y="349.90" width="11.08" height="11.80" fill="#03dc94"/>
<rect x="195.66" y="349.90" width="11.09" height="11.80" fill="#16e603"/>
<rect x="206.14" y="349.90" width="11.09" height="11.80" fill="#8af304"/>
<rect x="216.63" y="349.90" width="11.08" height="11.80" fill="#a8f604"/>
<rect x="227.11" y="349.90" width="11.09" height="11.80" fill="#b3f704"/>
<rect x="237.60" y="349.90" width="11.09" height="11.80" fill="#8af304"/>
<rect x="248.08" y="349.90" width="11.09" height="11.80" fill="#03e22a"/>
<rect x="258.57" y="349.90" width="11.08" height="11.80" fill="#03d9ab"/>
<rect x="269.05" y="349.90" width="8.85" height="11.80" fill="#038fd5"/>
<rect x="61.60" y="361.10" width="8.84" height="11.80" fill="#76f204"/>
<rect x="69.84" y="361.10" width="11.08" height="11.80" fill="#66f004"/>
<rect x="80.33" y="361.10" width="11.08" height="11.80" fill="#03e23d"/>
<rect x="90.81" y="361.10" width="11.08" height="11.80" fill="#03d9ab"/>
<rect x="101.30" y="361.10" width="11.08" height="11.80" fill="#03e23d"/>
<rect x="111.78" y="361.10" width="21.57" height="11.80" fill="#03e22a"/>
<rect x="132.75" y="361.10" width="11.08" height="11.80" fill="#03e23d"/>
<rect x="143.23" y="361.10" width="11.08" height="11.80" fill="#03e154"/>
<rect x="153.72" y="361.10" width="11.09" height="11.80" fill="#03e072"/>
<rect x="164.20" y="361.10" width="11.09" height="11.80" fill="#03a9d5"/>
<rect x="174.69" y="361.10" width="11.08" height="11.80" fill="#0387d6"/>
<rect x="185.17" y="361.10" width="11.08" height="11.80" fill="#03bad4"/>
<rect x="195.66" y="361.10" width="11.09" height="11.80" fill="#03e22a"/>
<rect x="206.14" y="361.10" width="11.09" height="11.80" fill="#3deb04"/>
<rect x="216.63" y="361.10" width="11.08" height="11.80" fill="#51ed04"/>
<rect x="227.11" y="361.10" width="11.09" height="11.80" fill="#9ef504"/>
<rect x="237.60" y="361.10" width="11.09" height="11.80" fill="#76f204"/>
<rect x="248.08" y="361.10" width="11.09" height="11.80" fill="#03e22a"/>
<rect x="258.57" y="361.10" width="11.08" height="11.80" fill="#03d9ab"/>
<rect x="269.05" y="361.10" width="8.85" height="11.80" fill="#03c2d4"/>
<rect x="61.60" y="372.30" width="8.84" height="11.80" fill="#fcfc04"/>
<rect x="69.84" y="372.30" width="11.08" height="11.80" fill="#e8fb04"/>
<rect x="80.33" y="372.30" width="11.08" height="11.80" fill="#2ae803"/>
<rect x="90.81" y="372.30" width="11.08" height="11.80" fill="#03e220"/>
<rect x="101.30" y="372.30" width="11.08" height="11.80" fill="#03dd91"/>
<rect x="111.78" y="372.30" width="11.08" height="11.80" fill="#03d6c3"/>
<rect x="122.27" y="372.30" width="32.05" height="11.80" fill="#03d5cb"/>
<rect x="153.72" y="372.30" width="11.09" height="11.80" fill="#03d4d4"/>
<rect x="164.20" y="372.30" width="11.09" height="11.80" fill="#0387d6"/>
<rect x="174.69" y="372.30" width="11.08" height="11.80" fill="#034ad0"/>
<rect x="185.17" y="372.30" width="11.08" height="11.80" fill="#0326c5"/>
<rect x="195.66" y="372.30" width="11.09" height="11.80" fill="#037ed6"/>
<rect x="206.14" y="372.30" width="11.09" height="11.80" fill="#03d4d4"/>
<rect x="216.63" y="372.30" width="11.08" height="11.80" fill="#03d9ab"/>
<rect x="227.11" y="372.30" width="11.09" height="11.80" fill="#03d4d4"/>
<rect x="237.60" y="372.30" width="11.09" height="11.80" fill="#03d7bb"/>
<rect x="248.08" y="372.30" width="11.09" height="11.80" fill="#03e240"/>
<rect x="258.57" y="372.30" width="11.08" height="11.80" fill="#03a9d5"/>
<rect x="269.05" y="372.30" width="8.85" height="11.80" fill="#0330ca"/>
<rect x="61.60" y="383.50" width="8.84" height="11.80" fill="#fdbb04"/>
<rect x="69.84" y="383.50" width="11.08" height="11.80" fill="#fdd404"/>
<rect x="80.33" y="383.50" width="11.08" height="11.80" fill="#b3f704"/>
<rect x="90.81" y="383.50" width="11.08" height="11.80" fill="#51ed04"/>
<rect x="101.30" y="383.50" width="11.08" height="11.80" fill="#03e303"/>
<rect x="111.78" y="383.50" width="11.08" height="11.80" fill="#03e229"/>
<rect x="122.27" y="383.50" width="11.09" height="11.80" fill="#03e154"/>
<rect x="132.75" y="383.50" width="11.08" height="11.80" fill="#03db9a"/>
<rect x="143.23" y="383.50" width="11.08" height="11.80" fill="#03c2d4"/>
<rect x="153.72" y="383.50" width="11.09" height="11.80" fill="#03d6c3"/>
<rect x="164.20" y="383.50" width="11.09" height="11.80" fill="#038fd5"/>
<rect x="174.69" y="383.50" width="11.08" height="11.80" fill="#035ed4"/>
<rect x="185.17" y="383.50" width="21.57" height="11.80" fill="#0330ca"/>
<rect x="206.14" y="383.50" width="11.09" height="11.80" fill="#0344cf"/>
<rect x="216.63" y="383.50" width="11.08" height="11.80" fill="#0387d6"/>
<rect x="227.11" y="383.50" width="11.09" height="11.80" fill="#0344cf"/>
<rect x="237.60" y="383.50" width="11.09" height="11.80" fill="#033acd"/>
<rect x="248.08" y="383.50" width="11.09" height="11.80" fill="#03a0d5"/>
<rect x="258.57" y="383.50" width="11.08" height="11.80" fill="#03d5cb"/>
<rect x="269.05" y="383.50" width="8.85" height="11.80" fill="#03d6c3"/>
<rect x="61.60" y="394.70" width="8.84" height="11.80" fill="#fe6208"/>
<rect x="69.84" y="394.70" width="11.08" height="11.80" fill="#fe6808"/>
<rect x="80.33" y="394.70" width="11.08" height="11.80" fill="#fe7807"/>
<rect x="90.81" y="394.70" width="11.08" height="11.80" fill="#fe7e07"/>
<rect x="101.30" y="394.70" width="11.08" height="11.80" fill="#fdd404"/>
<rect x="111.78" y="394.70" width="11.08" height="11.80" fill="#fcfc04"/>
<rect x="122.27" y="394.70" width="11.09" height="11.80" fill="#76f204"/>
<rect x="132.75" y="394.70" width="11.08" height="11.80" fill="#3deb04"/>
<rect x="143.23" y="394.70" width="11.08" height="11.80" fill="#03de88"/>
<rect x="153.72" y="394.70" width="11.09" height="11.80" fill="#03dd91"/>
<rect x="164.20" y="394.70" width="11.09" height="11.80" fill="#03e22a"/>
<rect x="174.69" y="394.70" width="11.08" height="11.80" fill="#03e303"/>
<rect x="185.17" y="394.70" width="11.08" height="11.80" fill="#03d9ab"/>
<rect x="195.66" y="394.70" width="11.09" height="11.80" fill="#036dd6"/>
<rect x="206.14" y="394.70" width="11.09" height="11.80" fill="#0387d6"/>
<rect x="216.63" y="394.70" width="11.08" height="11.80" fill="#035ed4"/>
<rect x="227.11" y="394.70" width="11.09" height="11.80" fill="#0326c5"/>
<rect x="237.60" y="394.70" width="11.09" height="11.80" fill="#033acd"/>
<rect x="248.08" y="394.70" width="11.09" height="11.80" fill="#03db9a"/>
<rect x="258.57" y="394.70" width="11.08" height="11.80" fill="#03e220"/>
<rect x="269.05" y="394.70" width="8.85" height="11.80" fill="#2ae803"/>
<rect x="61.60" y="405.90" width="8.84" height="11.80" fill="#fe4a09"/>
<rect x="69.84" y="405.90" width="11.08" height="11.80" fill="#fe4e09"/>
<rect x="80.33" y="405.90" width="11.08" height="11.80" fill="#fe5908"/>
<rect x="90.81" y="405.90" width="11.08" height="11.80" fill="#fe5d08"/>
<rect x="101.30" y="405.90" width="11.08" height="11.80" fill="#fe9006"/>
<rect x="111.78" y="405.90" width="11.08" height="11.80" fill="#fdbb04"/>
<rect x="122.27" y="405.90" width="11.09" height="11.80" fill="#fde504"/>
<rect x="132.75" y="405.90" width="11.08" height="11.80" fill="#fcfc04"/>
<rect x="143.23" y="405.90" width="11.08" height="11.80" fill="#66f004"/>
<rect x="153.72" y="405.90" width="11.09" height="11.80" fill="#03e303"/>
<rect x="164.20" y="405.90" width="21.57" height="11.80" fill="#3deb04"/>
<rect x="185.17" y="405.90" width="11.08" height="11.80" fill="#03e317"/>
<rect x="195.66" y="405.90" width="11.09" height="11.80" fill="#03d9ab"/>
<rect x="206.14" y="405.90" width="11.09" height="11.80" fill="#03db9a"/>
<rect x="216.63" y="405.90" width="11.08" height="11.80" fill="#03dd91"/>
<rect x="227.11" y="405.90" width="11.09" height="11.80" fill="#03d6c3"/>
<rect x="237.60" y="405.90" width="11.09" height="11.80" fill="#03d4d4"/>
<rect x="248.08" y="405.90" width="11.09" height="11.80" fill="#03e240"/>
<rect x="258.57" y="405.90" width="11.08" height="11.80" fill="#66f004"/>
<rect x="269.05" y="405.90" width="8.85" height="11.80" fill="#3deb04"/>
<rect x="61.60" y="417.10" width="8.84" height="11.80" fill="#fe3d0a"/>
<rect x="69.84" y="417.10" width="21.57" height="11.80" fill="#fe420a"/>
<rect x="90.81" y="417.10" width="11.08" height="11.80" fill="#fe4a09"/>
<rect x="101.30" y="417.10" width="11.08" height="11.80" fill="#fe6208"/>
<rect x="111.78" y="417.10" width="11.08" height="11.80" fill="#fe7807"/>
<rect x="122.27" y="417.10" width="11.09" height="11.80" fill="#fe7e07"/>
<rect x="132.75" y="417.10" width="11.08" height="11.80" fill="#fd9606"/>
<rect x="143.23" y="417.10" width="11.08" height="11.80" fill="#fda805"/>
<rect x="153.72" y="417.10" width="11.09" height="11.80" fill="#fddc04"/>
<rect x="164.20" y="417.10" width="11.09" height="11.80" fill="#fcfc04"/>
<rect x="174.69" y="417.10" width="11.08" height="11.80" fill="#fdf304"/>
<rect x="185.17" y="417.10" width="11.08" height="11.80" fill="#9ef504"/>
<rect x="195.66" y="417.10" width="32.05" height="11.80" fill="#8af304"/>
<rect x="227.11" y="417.10" width="11.09" height="11.80" fill="#17e603"/>
<rect x="237.60" y="417.10" width="11.09" height="11.80" fill="#2ae803"/>
<rect x="248.08" y="417.10" width="11.09" height="11.80" fill="#e8fb04"/>
<rect x="258.57" y="417.10" width="11.08" height="11.80" fill="#fd9606"/>
<rect x="269.05" y="417.10" width="8.85" height="11.80" fill="#fe6208"/>
<rect x="61.60" y="428.30" width="40.29" height="11.80" fill="#fe380a"/>
<rect x="101.30" y="428.30" width="11.08" height="11.80" fill="#fe3d0a"/>
<rect x="111.78" y="428.30" width="11.08" height="11.80" fill="#fe4e09"/>
<rect x="122.27" y="428.30" width="11.09" height="11.80" fill="#fe6808"/>
<rect x="132.75" y="428.30" width="11.08" height="11.80" fill="#fe7207"/>
<rect x="143.23" y="428.30" width="11.08" height="11.80" fill="#fe7807"/>
<rect x="153.72" y="428.30" width="21.57" height="11.80" fill="#fe7e07"/>
<rect x="174.69" y="428.30" width="11.08" height="11.80" fill="#fe9006"/>
<rect x="185.17" y="428.30" width="11.08" height="11.80" fill="#fd9f05"/>
<rect x="195.66" y="428.30" width="11.09" height="11.80" fill="#fdcc04"/>
<rect x="206.14" y="428.30" width="11.09" height="11.80" fill="#fdd404"/>
<rect x="216.63" y="428.30" width="11.08" height="11.80" fill="#fde504"/>
<rect x="227.11" y="428.30" width="11.09" height="11.80" fill="#fdcc04"/>
<rect x="237.60" y="428.30" width="11.09" height="11.80" fill="#fdbb04"/>
<rect x="248.08" y="428.30" width="11.09" height="11.80" fill="#fe6808"/>
<rect x="258.57" y="428.30" width="11.08" height="11.80" fill="#fe4609"/>
<rect x="269.05" y="428.30" width="8.85" height="11.80" fill="#fe380a"/>
<rect x="61.60" y="439.50" width="103.20" height="11.80" fill="#ff2a0b"/>
<rect x="164.20" y="439.50" width="11.09" height="11.80" fill="#ff2f0b"/>
<rect x="174.69" y="439.50" width="11.08" height="11.80" fill="#fe380a"/>
<rect x="185.17" y="439.50" width="11.08" height="11.80" fill="#fe3d0a"/>
<rect x="195.66" y="439.50" width="21.57" height="11.80" fill="#fe4609"/>
<rect x="216.63" y="439.50" width="11.08" height="11.80" fill="#fe3d0a"/>
<rect x="227.11" y="439.50" width="11.09" height="11.80" fill="#ff2f0b"/>
<rect x="237.60" y="439.50" width="40.30" height="11.80" fill="#ff2a0b"/>
<rect x="61.60" y="450.70" width="216.30" height="9.30" fill="#ff2a0b"/>
</g></g>
<rect x="64.9" y="288.6" width="209.7" height="168.1" fill="none" stroke="#111" stroke-width="1.2"/>
<path d="M61.5 434.2H64.9" stroke="#111" stroke-width="1"/>
<text x="61.0" y="438.2" text-anchor="end" font-size="11.5" font-weight="normal" fill="#111">10</text>
<path d="M61.5 411.5H64.9" stroke="#111" stroke-width="1"/>
<text x="61.0" y="415.5" text-anchor="end" font-size="11.5" font-weight="normal" fill="#111">20</text>
<path d="M61.5 388.8H64.9" stroke="#111" stroke-width="1"/>
<text x="61.0" y="392.8" text-anchor="end" font-size="11.5" font-weight="normal" fill="#111">30</text>
<path d="M61.5 366.1H64.9" stroke="#111" stroke-width="1"/>
<text x="61.0" y="370.1" text-anchor="end" font-size="11.5" font-weight="normal" fill="#111">40</text>
<path d="M61.5 343.4H64.9" stroke="#111" stroke-width="1"/>
<text x="61.0" y="347.4" text-anchor="end" font-size="11.5" font-weight="normal" fill="#111">50</text>
<path d="M61.5 320.7H64.9" stroke="#111" stroke-width="1"/>
<text x="61.0" y="324.7" text-anchor="end" font-size="11.5" font-weight="normal" fill="#111">60</text>
<path d="M61.5 298.0H64.9" stroke="#111" stroke-width="1"/>
<text x="61.0" y="302.0" text-anchor="end" font-size="11.5" font-weight="normal" fill="#111">70</text>
<path d="M70.1 456.7V460" stroke="#111" stroke-width="1"/>
<text x="70.1" y="470.0" text-anchor="middle" font-size="11.5" font-weight="normal" fill="#111">0</text>
<path d="M91.1 456.7V460" stroke="#111" stroke-width="1"/>
<text x="91.1" y="470.0" text-anchor="middle" font-size="11.5" font-weight="normal" fill="#111">10</text>
<path d="M112.0 456.7V460" stroke="#111" stroke-width="1"/>
<text x="112.0" y="470.0" text-anchor="middle" font-size="11.5" font-weight="normal" fill="#111">20</text>
<path d="M133.0 456.7V460" stroke="#111" stroke-width="1"/>
<text x="133.0" y="470.0" text-anchor="middle" font-size="11.5" font-weight="normal" fill="#111">30</text>
<path d="M154.0 456.7V460" stroke="#111" stroke-width="1"/>
<text x="154.0" y="470.0" text-anchor="middle" font-size="11.5" font-weight="normal" fill="#111">40</text>
<path d="M174.9 456.7V460" stroke="#111" stroke-width="1"/>
<text x="174.9" y="470.0" text-anchor="middle" font-size="11.5" font-weight="normal" fill="#111">50</text>
<path d="M195.9 456.7V460" stroke="#111" stroke-width="1"/>
<text x="195.9" y="470.0" text-anchor="middle" font-size="11.5" font-weight="normal" fill="#111">60</text>
<path d="M216.9 456.7V460" stroke="#111" stroke-width="1"/>
<text x="216.9" y="470.0" text-anchor="middle" font-size="11.5" font-weight="normal" fill="#111">70</text>
<path d="M237.9 456.7V460" stroke="#111" stroke-width="1"/>
<text x="237.9" y="470.0" text-anchor="middle" font-size="11.5" font-weight="normal" fill="#111">80</text>
<path d="M258.8 456.7V460" stroke="#111" stroke-width="1"/>
<text x="258.8" y="470.0" text-anchor="middle" font-size="11.5" font-weight="normal" fill="#111">90</text>
<text x="48.6" y="283.4" text-anchor="start" font-size="11.8" font-weight="normal" fill="#111">y (μm)</text>
<text x="167.4" y="482.2" text-anchor="middle" font-size="12.2" font-weight="normal" fill="#111">x (μm)</text>
<text x="1.8" y="302.3" text-anchor="start" font-size="12.2" font-weight="bold" fill="#111">(c)</text>
<text x="270.4" y="300.4" text-anchor="end" font-size="11.85" font-weight="normal" fill="#111">Area 1</text>
<rect x="21.9" y="290.4" width="7.9" height="167.4" fill="url(#cb)" stroke="#8a8a8a" stroke-width="0.8"/>
<text transform="translate(17.6 369) rotate(-90)" text-anchor="middle" font-size="12.2" fill="#111">Intensity (a.u.)</text>
<path d="M183.2 311.0H197.0M190.1 304.1V317.9" stroke="#e82a10" stroke-width="1.9" fill="none"/>
<clipPath id="clipC4"><rect x="338.90" y="301.80" width="132.20" height="155.10"/></clipPath>
<g clip-path="url(#clipC4)"><g filter="url(#bl)" shape-rendering="crispEdges">
<rect x="335.90" y="298.80" width="138.20" height="161.10" fill="#fdea04"/>
<rect x="335.60" y="298.50" width="8.30" height="8.50" fill="#9ef504"/>
<rect x="343.30" y="298.50" width="8.83" height="8.50" fill="#defa04"/>
<rect x="351.53" y="298.50" width="17.06" height="8.50" fill="#fcfc04"/>
<rect x="367.99" y="298.50" width="8.83" height="8.50" fill="#f2fc04"/>
<rect x="376.22" y="298.50" width="8.83" height="8.50" fill="#fcfc04"/>
<rect x="384.45" y="298.50" width="8.83" height="8.50" fill="#fe7e07"/>
<rect x="392.68" y="298.50" width="8.83" height="8.50" fill="#fcfc04"/>
<rect x="400.91" y="298.50" width="8.83" height="8.50" fill="#8af304"/>
<rect x="409.14" y="298.50" width="8.83" height="8.50" fill="#03e303"/>
<rect x="417.37" y="298.50" width="8.83" height="8.50" fill="#03e154"/>
<rect x="425.60" y="298.50" width="8.83" height="8.50" fill="#03e240"/>
<rect x="433.83" y="298.50" width="8.83" height="8.50" fill="#e8fb04"/>
<rect x="442.06" y="298.50" width="17.06" height="8.50" fill="#fcfc04"/>
<rect x="458.52" y="298.50" width="8.83" height="8.50" fill="#f2fc04"/>
<rect x="466.75" y="298.50" width="7.65" height="8.50" fill="#e8fb04"/>
<rect x="335.60" y="306.40" width="8.30" height="8.77" fill="#9ef504"/>
<rect x="343.30" y="306.40" width="8.83" height="8.77" fill="#defa04"/>
<rect x="351.53" y="306.40" width="17.06" height="8.77" fill="#fcfc04"/>
<rect x="367.99" y="306.40" width="8.83" height="8.77" fill="#f2fc04"/>
<rect x="376.22" y="306.40" width="8.83" height="8.77" fill="#fda805"/>
<rect x="384.45" y="306.40" width="8.83" height="8.77" fill="#fdbb04"/>
<rect x="392.68" y="306.40" width="8.83" height="8.77" fill="#fcfc04"/>
<rect x="400.91" y="306.40" width="8.83" height="8.77" fill="#bff804"/>
<rect x="409.14" y="306.40" width="8.83" height="8.77" fill="#03e303"/>
<rect x="417.37" y="306.40" width="8.83" height="8.77" fill="#03d7bb"/>
<rect x="425.60" y="306.40" width="8.83" height="8.77" fill="#038fd5"/>
<rect x="433.83" y="306.40" width="8.83" height="8.77" fill="#e8fb04"/>
<rect x="442.06" y="306.40" width="8.83" height="8.77" fill="#fcfc04"/>
<rect x="450.29" y="306.40" width="8.83" height="8.77" fill="#fddc04"/>
<rect x="458.52" y="306.40" width="15.88" height="8.77" fill="#fcfc04"/>
<rect x="335.60" y="314.57" width="8.30" height="8.77" fill="#b3f704"/>
<rect x="343.30" y="314.57" width="8.83" height="8.77" fill="#defa04"/>
<rect x="351.53" y="314.57" width="8.83" height="8.77" fill="#fdcc04"/>
<rect x="359.76" y="314.57" width="8.83" height="8.77" fill="#fcfc04"/>
<rect x="367.99" y="314.57" width="8.83" height="8.77" fill="#fddc04"/>
<rect x="376.22" y="314.57" width="8.83" height="8.77" fill="#fcfc04"/>
<rect x="384.45" y="314.57" width="8.83" height="8.77" fill="#fd9606"/>
<rect x="392.68" y="314.57" width="8.83" height="8.77" fill="#fcfc04"/>
<rect x="400.91" y="314.57" width="8.83" height="8.77" fill="#e8fb04"/>
<rect x="409.14" y="314.57" width="8.83" height="8.77" fill="#03e303"/>
<rect x="417.37" y="314.57" width="17.06" height="8.77" fill="#03d4d4"/>
<rect x="433.83" y="314.57" width="8.83" height="8.77" fill="#03d9ab"/>
<rect x="442.06" y="314.57" width="8.83" height="8.77" fill="#fdf304"/>
<rect x="450.29" y="314.57" width="8.83" height="8.77" fill="#fddc04"/>
<rect x="458.52" y="314.57" width="15.88" height="8.77" fill="#fcfc04"/>
<rect x="335.60" y="322.74" width="8.30" height="8.77" fill="#b3f704"/>
<rect x="343.30" y="322.74" width="8.83" height="8.77" fill="#defa04"/>
<rect x="351.53" y="322.74" width="8.83" height="8.77" fill="#fcfc04"/>
<rect x="359.76" y="322.74" width="8.83" height="8.77" fill="#fdcc04"/>
<rect x="367.99" y="322.74" width="8.83" height="8.77" fill="#f2fc04"/>
<rect x="376.22" y="322.74" width="8.83" height="8.77" fill="#fcfc04"/>
<rect x="384.45" y="322.74" width="8.83" height="8.77" fill="#fd9606"/>
<rect x="392.68" y="322.74" width="8.83" height="8.77" fill="#fcfc04"/>
<rect x="400.91" y="322.74" width="8.83" height="8.77" fill="#fdbb04"/>
<rect x="409.14" y="322.74" width="8.83" height="8.77" fill="#03e303"/>
<rect x="417.37" y="322.74" width="8.83" height="8.77" fill="#03e240"/>
<rect x="425.60" y="322.74" width="8.83" height="8.77" fill="#03d9ab"/>
<rect x="433.83" y="322.74" width="8.83" height="8.77" fill="#03d5cb"/>
<rect x="442.06" y="322.74" width="8.83" height="8.77" fill="#fcfc04"/>
<rect x="450.29" y="322.74" width="8.83" height="8.77" fill="#fdf304"/>
<rect x="458.52" y="322.74" width="15.88" height="8.77" fill="#fcfc04"/>
<rect x="335.60" y="330.91" width="8.30" height="8.77" fill="#9ef504"/>
<rect x="343.30" y="330.91" width="8.83" height="8.77" fill="#c9f904"/>
<rect x="351.53" y="330.91" width="8.83" height="8.77" fill="#f2fc04"/>
<rect x="359.76" y="330.91" width="8.83" height="8.77" fill="#fcfc04"/>
<rect x="367.99" y="330.91" width="8.83" height="8.77" fill="#f2fc04"/>
<rect x="376.22" y="330.91" width="17.06" height="8.77" fill="#fcfc04"/>
<rect x="392.68" y="330.91" width="8.83" height="8.77" fill="#f2fc04"/>
<rect x="400.91" y="330.91" width="8.83" height="8.77" fill="#e8fb04"/>
<rect x="409.14" y="330.91" width="17.06" height="8.77" fill="#03e303"/>
<rect x="425.60" y="330.91" width="8.83" height="8.77" fill="#03e240"/>
<rect x="433.83" y="330.91" width="8.83" height="8.77" fill="#03d9ab"/>
<rect x="442.06" y="330.91" width="8.83" height="8.77" fill="#fda805"/>
<rect x="450.29" y="330.91" width="24.11" height="8.77" fill="#fcfc04"/>
<rect x="335.60" y="339.08" width="8.30" height="8.77" fill="#fdea04"/>
<rect x="343.30" y="339.08" width="8.83" height="8.77" fill="#fdd404"/>
<rect x="351.53" y="339.08" width="8.83" height="8.77" fill="#fde304"/>
<rect x="359.76" y="339.08" width="8.83" height="8.77" fill="#fdc404"/>
<rect x="367.99" y="339.08" width="8.83" height="8.77" fill="#fdbb04"/>
<rect x="376.22" y="339.08" width="8.83" height="8.77" fill="#ff2d0b"/>
<rect x="384.45" y="339.08" width="8.83" height="8.77" fill="#fdeb04"/>
<rect x="392.68" y="339.08" width="8.83" height="8.77" fill="#f2fc04"/>
<rect x="400.91" y="339.08" width="8.83" height="8.77" fill="#bff804"/>
<rect x="409.14" y="339.08" width="8.83" height="8.77" fill="#66f004"/>
<rect x="417.37" y="339.08" width="8.83" height="8.77" fill="#03e317"/>
<rect x="425.60" y="339.08" width="8.83" height="8.77" fill="#03e303"/>
<rect x="433.83" y="339.08" width="8.83" height="8.77" fill="#03e220"/>
<rect x="442.06" y="339.08" width="8.83" height="8.77" fill="#e8fb04"/>
<rect x="450.29" y="339.08" width="17.06" height="8.77" fill="#fcfc04"/>
<rect x="466.75" y="339.08" width="7.65" height="8.77" fill="#f2fc04"/>
<rect x="335.60" y="347.25" width="8.30" height="8.77" fill="#fdf304"/>
<rect x="343.30" y="347.25" width="8.83" height="8.77" fill="#fcfc04"/>
<rect x="351.53" y="347.25" width="8.83" height="8.77" fill="#b5f704"/>
<rect x="359.76" y="347.25" width="8.83" height="8.77" fill="#fe440a"/>
<rect x="367.99" y="347.25" width="8.83" height="8.77" fill="#fd9606"/>
<rect x="376.22" y="347.25" width="8.83" height="8.77" fill="#ff2d0b"/>
<rect x="384.45" y="347.25" width="8.83" height="8.77" fill="#fdcc04"/>
<rect x="392.68" y="347.25" width="8.83" height="8.77" fill="#bff804"/>
<rect x="400.91" y="347.25" width="8.83" height="8.77" fill="#b3f704"/>
<rect x="409.14" y="347.25" width="8.83" height="8.77" fill="#66f004"/>
<rect x="417.37" y="347.25" width="17.06" height="8.77" fill="#03e317"/>
<rect x="433.83" y="347.25" width="8.83" height="8.77" fill="#e8fb04"/>
<rect x="442.06" y="347.25" width="8.83" height="8.77" fill="#bff804"/>
<rect x="450.29" y="347.25" width="17.06" height="8.77" fill="#fcfc04"/>
<rect x="466.75" y="347.25" width="7.65" height="8.77" fill="#e8fb04"/>
<rect x="335.60" y="355.42" width="8.30" height="8.77" fill="#fda805"/>
<rect x="343.30" y="355.42" width="8.83" height="8.77" fill="#fdbb04"/>
<rect x="351.53" y="355.42" width="8.83" height="8.77" fill="#fdcc04"/>
<rect x="359.76" y="355.42" width="8.83" height="8.77" fill="#fddc04"/>
<rect x="367.99" y="355.42" width="8.83" height="8.77" fill="#fd9606"/>
<rect x="376.22" y="355.42" width="8.83" height="8.77" fill="#fda805"/>
<rect x="384.45" y="355.42" width="8.83" height="8.77" fill="#b3f704"/>
<rect x="392.68" y="355.42" width="8.83" height="8.77" fill="#51ed04"/>
<rect x="400.91" y="355.42" width="8.83" height="8.77" fill="#76f204"/>
<rect x="409.14" y="355.42" width="8.83" height="8.77" fill="#3deb04"/>
<rect x="417.37" y="355.42" width="8.83" height="8.77" fill="#03db9a"/>
<rect x="425.60" y="355.42" width="8.83" height="8.77" fill="#03d9ab"/>
<rect x="433.83" y="355.42" width="8.83" height="8.77" fill="#66f004"/>
<rect x="442.06" y="355.42" width="8.83" height="8.77" fill="#9ef504"/>
<rect x="450.29" y="355.42" width="8.83" height="8.77" fill="#f2fc04"/>
<rect x="458.52" y="355.42" width="8.83" height="8.77" fill="#fddc04"/>
<rect x="466.75" y="355.42" width="7.65" height="8.77" fill="#f2fc04"/>
<rect x="335.60" y="363.59" width="8.30" height="8.77" fill="#e8fb04"/>
<rect x="343.30" y="363.59" width="8.83" height="8.77" fill="#f2fc04"/>
<rect x="351.53" y="363.59" width="8.83" height="8.77" fill="#fdbb04"/>
<rect x="359.76" y="363.59" width="8.83" height="8.77" fill="#fe440a"/>
<rect x="367.99" y="363.59" width="8.83" height="8.77" fill="#fcfc04"/>
<rect x="376.22" y="363.59" width="8.83" height="8.77" fill="#d4f904"/>
<rect x="384.45" y="363.59" width="8.83" height="8.77" fill="#9ef504"/>
<rect x="392.68" y="363.59" width="8.83" height="8.77" fill="#76f204"/>
<rect x="400.91" y="363.59" width="8.83" height="8.77" fill="#9ef504"/>
<rect x="409.14" y="363.59" width="8.83" height="8.77" fill="#51ed04"/>
<rect x="417.37" y="363.59" width="8.83" height="8.77" fill="#03e154"/>
<rect x="425.60" y="363.59" width="8.83" height="8.77" fill="#035ed4"/>
<rect x="433.83" y="363.59" width="8.83" height="8.77" fill="#03a0d5"/>
<rect x="442.06" y="363.59" width="8.83" height="8.77" fill="#03d9ab"/>
<rect x="450.29" y="363.59" width="8.83" height="8.77" fill="#b3f704"/>
<rect x="458.52" y="363.59" width="8.83" height="8.77" fill="#e8fb04"/>
<rect x="466.75" y="363.59" width="7.65" height="8.77" fill="#d4f904"/>
<rect x="335.60" y="371.76" width="16.53" height="8.77" fill="#fdcc04"/>
<rect x="351.53" y="371.76" width="8.83" height="8.77" fill="#fda805"/>
<rect x="359.76" y="371.76" width="8.83" height="8.77" fill="#fdbb04"/>
<rect x="367.99" y="371.76" width="8.83" height="8.77" fill="#fcfc04"/>
<rect x="376.22" y="371.76" width="8.83" height="8.77" fill="#fdcc04"/>
<rect x="384.45" y="371.76" width="8.83" height="8.77" fill="#defa04"/>
<rect x="392.68" y="371.76" width="8.83" height="8.77" fill="#e8fb04"/>
<rect x="400.91" y="371.76" width="8.83" height="8.77" fill="#fd9606"/>
<rect x="409.14" y="371.76" width="8.83" height="8.77" fill="#bff804"/>
<rect x="417.37" y="371.76" width="8.83" height="8.77" fill="#03e154"/>
<rect x="425.60" y="371.76" width="8.83" height="8.77" fill="#034ad0"/>
<rect x="433.83" y="371.76" width="8.83" height="8.77" fill="#0314bc"/>
<rect x="442.06" y="371.76" width="8.83" height="8.77" fill="#038fd5"/>
<rect x="450.29" y="371.76" width="8.83" height="8.77" fill="#03e303"/>
<rect x="458.52" y="371.76" width="8.83" height="8.77" fill="#fd9606"/>
<rect x="466.75" y="371.76" width="7.65" height="8.77" fill="#bff804"/>
<rect x="335.60" y="379.93" width="8.30" height="8.77" fill="#fdcc04"/>
<rect x="343.30" y="379.93" width="8.83" height="8.77" fill="#fdd404"/>
<rect x="351.53" y="379.93" width="8.83" height="8.77" fill="#fdbb04"/>
<rect x="359.76" y="379.93" width="8.83" height="8.77" fill="#fd9f05"/>
<rect x="367.99" y="379.93" width="8.83" height="8.77" fill="#fda805"/>
<rect x="376.22" y="379.93" width="8.83" height="8.77" fill="#fdea04"/>
<rect x="384.45" y="379.93" width="8.83" height="8.77" fill="#defa04"/>
<rect x="392.68" y="379.93" width="8.83" height="8.77" fill="#e8fb04"/>
<rect x="400.91" y="379.93" width="8.83" height="8.77" fill="#fdea04"/>
<rect x="409.14" y="379.93" width="8.83" height="8.77" fill="#c7f804"/>
<rect x="417.37" y="379.93" width="8.83" height="8.77" fill="#03e303"/>
<rect x="425.60" y="379.93" width="8.83" height="8.77" fill="#03de83"/>
<rect x="433.83" y="379.93" width="8.83" height="8.77" fill="#03a9d5"/>
<rect x="442.06" y="379.93" width="8.83" height="8.77" fill="#03c2d4"/>
<rect x="450.29" y="379.93" width="8.83" height="8.77" fill="#03e303"/>
<rect x="458.52" y="379.93" width="8.83" height="8.77" fill="#9ef504"/>
<rect x="466.75" y="379.93" width="7.65" height="8.77" fill="#e8fb04"/>
<rect x="335.60" y="388.10" width="8.30" height="8.77" fill="#fdf304"/>
<rect x="343.30" y="388.10" width="8.83" height="8.77" fill="#b3f704"/>
<rect x="351.53" y="388.10" width="8.83" height="8.77" fill="#fcfc04"/>
<rect x="359.76" y="388.10" width="8.83" height="8.77" fill="#b3f704"/>
<rect x="367.99" y="388.10" width="8.83" height="8.77" fill="#c9f904"/>
<rect x="376.22" y="388.10" width="8.83" height="8.77" fill="#d4f904"/>
<rect x="384.45" y="388.10" width="8.83" height="8.77" fill="#defa04"/>
<rect x="392.68" y="388.10" width="8.83" height="8.77" fill="#e8fb04"/>
<rect x="400.91" y="388.10" width="8.83" height="8.77" fill="#f2fc04"/>
<rect x="409.14" y="388.10" width="8.83" height="8.77" fill="#76f204"/>
<rect x="417.37" y="388.10" width="8.83" height="8.77" fill="#51ed04"/>
<rect x="425.60" y="388.10" width="8.83" height="8.77" fill="#66f004"/>
<rect x="433.83" y="388.10" width="8.83" height="8.77" fill="#8af304"/>
<rect x="442.06" y="388.10" width="8.83" height="8.77" fill="#3deb04"/>
<rect x="450.29" y="388.10" width="8.83" height="8.77" fill="#51ed04"/>
<rect x="458.52" y="388.10" width="8.83" height="8.77" fill="#f2fc04"/>
<rect x="466.75" y="388.10" width="7.65" height="8.77" fill="#fcfc04"/>
<rect x="335.60" y="396.27" width="8.30" height="8.77" fill="#e8fb04"/>
<rect x="343.30" y="396.27" width="8.83" height="8.77" fill="#03e303"/>
<rect x="351.53" y="396.27" width="8.83" height="8.77" fill="#fcfc04"/>
<rect x="359.76" y="396.27" width="8.83" height="8.77" fill="#b3f704"/>
<rect x="367.99" y="396.27" width="8.83" height="8.77" fill="#d4f904"/>
<rect x="376.22" y="396.27" width="8.83" height="8.77" fill="#fda805"/>
<rect x="384.45" y="396.27" width="8.83" height="8.77" fill="#defa04"/>
<rect x="392.68" y="396.27" width="8.83" height="8.77" fill="#f2fc04"/>
<rect x="400.91" y="396.27" width="8.83" height="8.77" fill="#fd9606"/>
<rect x="409.14" y="396.27" width="8.83" height="8.77" fill="#66f004"/>
<rect x="417.37" y="396.27" width="8.83" height="8.77" fill="#51ed04"/>
<rect x="425.60" y="396.27" width="8.83" height="8.77" fill="#fdcc04"/>
<rect x="433.83" y="396.27" width="8.83" height="8.77" fill="#fdbb04"/>
<rect x="442.06" y="396.27" width="8.83" height="8.77" fill="#fdea04"/>
<rect x="450.29" y="396.27" width="8.83" height="8.77" fill="#fdd404"/>
<rect x="458.52" y="396.27" width="8.83" height="8.77" fill="#fdf304"/>
<rect x="466.75" y="396.27" width="7.65" height="8.77" fill="#fcfc04"/>
<rect x="335.60" y="404.44" width="8.30" height="8.77" fill="#bff804"/>
<rect x="343.30" y="404.44" width="17.06" height="8.77" fill="#03e303"/>
<rect x="359.76" y="404.44" width="17.06" height="8.77" fill="#fcfc04"/>
<rect x="376.22" y="404.44" width="8.83" height="8.77" fill="#bff804"/>
<rect x="384.45" y="404.44" width="8.83" height="8.77" fill="#defa04"/>
<rect x="392.68" y="404.44" width="8.83" height="8.77" fill="#f2fc04"/>
<rect x="400.91" y="404.44" width="8.83" height="8.77" fill="#fe7e07"/>
<rect x="409.14" y="404.44" width="8.83" height="8.77" fill="#fe360a"/>
<rect x="417.37" y="404.44" width="8.83" height="8.77" fill="#fdbb04"/>
<rect x="425.60" y="404.44" width="8.83" height="8.77" fill="#8af304"/>
<rect x="433.83" y="404.44" width="8.83" height="8.77" fill="#fe360a"/>
<rect x="442.06" y="404.44" width="8.83" height="8.77" fill="#fdcc04"/>
<rect x="450.29" y="404.44" width="8.83" height="8.77" fill="#f2fc04"/>
<rect x="458.52" y="404.44" width="8.83" height="8.77" fill="#fe6208"/>
<rect x="466.75" y="404.44" width="7.65" height="8.77" fill="#fdcc04"/>
<rect x="335.60" y="412.61" width="8.30" height="8.77" fill="#bff804"/>
<rect x="343.30" y="412.61" width="17.06" height="8.77" fill="#51ed04"/>
<rect x="359.76" y="412.61" width="8.83" height="8.77" fill="#66f004"/>
<rect x="367.99" y="412.61" width="8.83" height="8.77" fill="#03e154"/>
<rect x="376.22" y="412.61" width="8.83" height="8.77" fill="#3deb04"/>
<rect x="384.45" y="412.61" width="8.83" height="8.77" fill="#e8fb04"/>
<rect x="392.68" y="412.61" width="8.83" height="8.77" fill="#fda805"/>
<rect x="400.91" y="412.61" width="8.83" height="8.77" fill="#fd9606"/>
<rect x="409.14" y="412.61" width="8.83" height="8.77" fill="#fe360a"/>
<rect x="417.37" y="412.61" width="8.83" height="8.77" fill="#fda805"/>
<rect x="425.60" y="412.61" width="8.83" height="8.77" fill="#fe6208"/>
<rect x="433.83" y="412.61" width="8.83" height="8.77" fill="#fe360a"/>
<rect x="442.06" y="412.61" width="8.83" height="8.77" fill="#fdbb04"/>
<rect x="450.29" y="412.61" width="8.83" height="8.77" fill="#e8fb04"/>
<rect x="458.52" y="412.61" width="8.83" height="8.77" fill="#d4f904"/>
<rect x="466.75" y="412.61" width="7.65" height="8.77" fill="#e8fb04"/>
<rect x="335.60" y="420.78" width="8.30" height="8.77" fill="#f2fc04"/>
<rect x="343.30" y="420.78" width="8.83" height="8.77" fill="#d4f904"/>
<rect x="351.53" y="420.78" width="8.83" height="8.77" fill="#c9f904"/>
<rect x="359.76" y="420.78" width="8.83" height="8.77" fill="#d4f904"/>
<rect x="367.99" y="420.78" width="8.83" height="8.77" fill="#8af304"/>
<rect x="376.22" y="420.78" width="8.83" height="8.77" fill="#03e22a"/>
<rect x="384.45" y="420.78" width="8.83" height="8.77" fill="#03e303"/>
<rect x="392.68" y="420.78" width="8.83" height="8.77" fill="#b3f704"/>
<rect x="400.91" y="420.78" width="8.83" height="8.77" fill="#fe440a"/>
<rect x="409.14" y="420.78" width="8.83" height="8.77" fill="#8af304"/>
<rect x="417.37" y="420.78" width="8.83" height="8.77" fill="#fd9f05"/>
<rect x="425.60" y="420.78" width="8.83" height="8.77" fill="#fdbb04"/>
<rect x="433.83" y="420.78" width="8.83" height="8.77" fill="#fcfc04"/>
<rect x="442.06" y="420.78" width="8.83" height="8.77" fill="#b3f704"/>
<rect x="450.29" y="420.78" width="8.83" height="8.77" fill="#fda805"/>
<rect x="458.52" y="420.78" width="8.83" height="8.77" fill="#b3f704"/>
<rect x="466.75" y="420.78" width="7.65" height="8.77" fill="#fe9006"/>
<rect x="335.60" y="428.95" width="16.53" height="8.77" fill="#fdd404"/>
<rect x="351.53" y="428.95" width="8.83" height="8.77" fill="#fdf304"/>
<rect x="359.76" y="428.95" width="8.83" height="8.77" fill="#fcfc04"/>
<rect x="367.99" y="428.95" width="8.83" height="8.77" fill="#e8fb04"/>
<rect x="376.22" y="428.95" width="8.83" height="8.77" fill="#8af304"/>
<rect x="384.45" y="428.95" width="8.83" height="8.77" fill="#03e303"/>
<rect x="392.68" y="428.95" width="8.83" height="8.77" fill="#e8fb04"/>
<rect x="400.91" y="428.95" width="8.83" height="8.77" fill="#fe9006"/>
<rect x="409.14" y="428.95" width="8.83" height="8.77" fill="#66f004"/>
<rect x="417.37" y="428.95" width="8.83" height="8.77" fill="#fd9606"/>
<rect x="425.60" y="428.95" width="8.83" height="8.77" fill="#fcfc04"/>
<rect x="433.83" y="428.95" width="8.83" height="8.77" fill="#fda805"/>
<rect x="442.06" y="428.95" width="8.83" height="8.77" fill="#fcfc04"/>
<rect x="450.29" y="428.95" width="8.83" height="8.77" fill="#f2fc04"/>
<rect x="458.52" y="428.95" width="8.83" height="8.77" fill="#defa04"/>
<rect x="466.75" y="428.95" width="7.65" height="8.77" fill="#f2fc04"/>
<rect x="335.60" y="437.12" width="8.30" height="8.77" fill="#fdd404"/>
<rect x="343.30" y="437.12" width="8.83" height="8.77" fill="#fdcc04"/>
<rect x="351.53" y="437.12" width="17.06" height="8.77" fill="#fdd404"/>
<rect x="367.99" y="437.12" width="17.06" height="8.77" fill="#f2fc04"/>
<rect x="384.45" y="437.12" width="8.83" height="8.77" fill="#defa04"/>
<rect x="392.68" y="437.12" width="8.83" height="8.77" fill="#51ed04"/>
<rect x="400.91" y="437.12" width="8.83" height="8.77" fill="#e8fb04"/>
<rect x="409.14" y="437.12" width="8.83" height="8.77" fill="#d4f904"/>
<rect x="417.37" y="437.12" width="8.83" height="8.77" fill="#fdcc04"/>
<rect x="425.60" y="437.12" width="8.83" height="8.77" fill="#fcfc04"/>
<rect x="433.83" y="437.12" width="8.83" height="8.77" fill="#fdf304"/>
<rect x="442.06" y="437.12" width="8.83" height="8.77" fill="#fcfc04"/>
<rect x="450.29" y="437.12" width="8.83" height="8.77" fill="#bff804"/>
<rect x="458.52" y="437.12" width="15.88" height="8.77" fill="#f2fc04"/>
<rect x="335.60" y="445.29" width="8.30" height="8.77" fill="#fdc404"/>
<rect x="343.30" y="445.29" width="8.83" height="8.77" fill="#fdbb04"/>
<rect x="351.53" y="445.29" width="8.83" height="8.77" fill="#fd9f05"/>
<rect x="359.76" y="445.29" width="8.83" height="8.77" fill="#fdc404"/>
<rect x="367.99" y="445.29" width="8.83" height="8.77" fill="#fda805"/>
<rect x="376.22" y="445.29" width="17.06" height="8.77" fill="#fdd404"/>
<rect x="392.68" y="445.29" width="8.83" height="8.77" fill="#fdf304"/>
<rect x="400.91" y="445.29" width="8.83" height="8.77" fill="#fdbb04"/>
<rect x="409.14" y="445.29" width="17.06" height="8.77" fill="#fdcc04"/>
<rect x="425.60" y="445.29" width="8.83" height="8.77" fill="#e8fb04"/>
<rect x="433.83" y="445.29" width="8.83" height="8.77" fill="#fcfc04"/>
<rect x="442.06" y="445.29" width="8.83" height="8.77" fill="#fdbb04"/>
<rect x="450.29" y="445.29" width="8.83" height="8.77" fill="#bff804"/>
<rect x="458.52" y="445.29" width="15.88" height="8.77" fill="#f2fc04"/>
<rect x="335.60" y="453.46" width="8.30" height="6.74" fill="#fdcc04"/>
<rect x="343.30" y="453.46" width="8.83" height="6.74" fill="#fdc404"/>
<rect x="351.53" y="453.46" width="8.83" height="6.74" fill="#fda805"/>
<rect x="359.76" y="453.46" width="8.83" height="6.74" fill="#fdcc04"/>
<rect x="367.99" y="453.46" width="8.83" height="6.74" fill="#fdbb04"/>
<rect x="376.22" y="453.46" width="17.06" height="6.74" fill="#fdd404"/>
<rect x="392.68" y="453.46" width="8.83" height="6.74" fill="#fdf304"/>
<rect x="400.91" y="453.46" width="8.83" height="6.74" fill="#fdc404"/>
<rect x="409.14" y="453.46" width="17.06" height="6.74" fill="#fdcc04"/>
<rect x="425.60" y="453.46" width="8.83" height="6.74" fill="#e8fb04"/>
<rect x="433.83" y="453.46" width="8.83" height="6.74" fill="#fcfc04"/>
<rect x="442.06" y="453.46" width="8.83" height="6.74" fill="#fdbb04"/>
<rect x="450.29" y="453.46" width="8.83" height="6.74" fill="#bff804"/>
<rect x="458.52" y="453.46" width="15.88" height="6.74" fill="#f2fc04"/>
</g></g>
<rect x="338.9" y="301.8" width="132.2" height="155.1" fill="none" stroke="#111" stroke-width="1.2"/>
<path d="M336 455.2H338.9" stroke="#111" stroke-width="1"/>
<text x="336.3" y="458.9" text-anchor="end" font-size="11.5" font-weight="normal" fill="#111">0</text>
<path d="M336 438.9H338.9" stroke="#111" stroke-width="1"/>
<text x="336.3" y="442.6" text-anchor="end" font-size="11.5" font-weight="normal" fill="#111">10</text>
<path d="M336 422.6H338.9" stroke="#111" stroke-width="1"/>
<text x="336.3" y="426.3" text-anchor="end" font-size="11.5" font-weight="normal" fill="#111">20</text>
<path d="M336 406.3H338.9" stroke="#111" stroke-width="1"/>
<text x="336.3" y="410.0" text-anchor="end" font-size="11.5" font-weight="normal" fill="#111">30</text>
<path d="M336 390.0H338.9" stroke="#111" stroke-width="1"/>
<text x="336.3" y="393.7" text-anchor="end" font-size="11.5" font-weight="normal" fill="#111">40</text>
<path d="M336 373.7H338.9" stroke="#111" stroke-width="1"/>
<text x="336.3" y="377.4" text-anchor="end" font-size="11.5" font-weight="normal" fill="#111">50</text>
<path d="M336 357.4H338.9" stroke="#111" stroke-width="1"/>
<text x="336.3" y="361.1" text-anchor="end" font-size="11.5" font-weight="normal" fill="#111">60</text>
<path d="M336 341.1H338.9" stroke="#111" stroke-width="1"/>
<text x="336.3" y="344.8" text-anchor="end" font-size="11.5" font-weight="normal" fill="#111">70</text>
<path d="M336 324.8H338.9" stroke="#111" stroke-width="1"/>
<text x="336.3" y="328.5" text-anchor="end" font-size="11.5" font-weight="normal" fill="#111">80</text>
<path d="M336 308.5H338.9" stroke="#111" stroke-width="1"/>
<text x="336.3" y="312.2" text-anchor="end" font-size="11.5" font-weight="normal" fill="#111">90</text>
<path d="M344.0 456.9V460" stroke="#111" stroke-width="1"/>
<text x="344.0" y="470.3" text-anchor="middle" font-size="11.5" font-weight="normal" fill="#111">0</text>
<path d="M360.4 456.9V460" stroke="#111" stroke-width="1"/>
<text x="360.4" y="470.3" text-anchor="middle" font-size="11.5" font-weight="normal" fill="#111">10</text>
<path d="M376.9 456.9V460" stroke="#111" stroke-width="1"/>
<text x="376.9" y="470.3" text-anchor="middle" font-size="11.5" font-weight="normal" fill="#111">20</text>
<path d="M393.4 456.9V460" stroke="#111" stroke-width="1"/>
<text x="393.4" y="470.3" text-anchor="middle" font-size="11.5" font-weight="normal" fill="#111">30</text>
<path d="M409.8 456.9V460" stroke="#111" stroke-width="1"/>
<text x="409.8" y="470.3" text-anchor="middle" font-size="11.5" font-weight="normal" fill="#111">40</text>
<path d="M426.2 456.9V460" stroke="#111" stroke-width="1"/>
<text x="426.2" y="470.3" text-anchor="middle" font-size="11.5" font-weight="normal" fill="#111">50</text>
<path d="M442.7 456.9V460" stroke="#111" stroke-width="1"/>
<text x="442.7" y="470.3" text-anchor="middle" font-size="11.5" font-weight="normal" fill="#111">60</text>
<path d="M459.1 456.9V460" stroke="#111" stroke-width="1"/>
<text x="459.1" y="470.3" text-anchor="middle" font-size="11.5" font-weight="normal" fill="#111">70</text>
<text x="323.6" y="296.2" text-anchor="start" font-size="11.7" font-weight="normal" fill="#111">y (μm)</text>
<text x="407.0" y="482.6" text-anchor="middle" font-size="12.2" font-weight="normal" fill="#111">x (μm)</text>
<text x="467.6" y="316.0" text-anchor="end" font-size="11.8" font-weight="normal" fill="#111">Area 4</text>
<path d="M399.5 384.2H410.9M405.2 378.5V389.9" stroke="#e02a10" stroke-width="1.7" fill="none"/>
<clipPath id="clipC9"><rect x="535.80" y="302.60" width="139.20" height="154.30"/></clipPath>
<g clip-path="url(#clipC9)"><g filter="url(#bl)" shape-rendering="crispEdges">
<rect x="532.80" y="299.60" width="145.20" height="160.30" fill="#0398d5"/>
<rect x="532.50" y="299.30" width="8.50" height="8.20" fill="#f2fc04"/>
<rect x="540.40" y="299.30" width="8.68" height="8.20" fill="#9ef504"/>
<rect x="548.48" y="299.30" width="8.68" height="8.20" fill="#8af304"/>
<rect x="556.56" y="299.30" width="8.68" height="8.20" fill="#66f004"/>
<rect x="564.64" y="299.30" width="8.68" height="8.20" fill="#9ef504"/>
<rect x="572.72" y="299.30" width="8.68" height="8.20" fill="#bff804"/>
<rect x="580.80" y="299.30" width="16.76" height="8.20" fill="#fcfc04"/>
<rect x="596.96" y="299.30" width="8.68" height="8.20" fill="#fdf304"/>
<rect x="605.04" y="299.30" width="8.68" height="8.20" fill="#fcfc04"/>
<rect x="613.12" y="299.30" width="8.68" height="8.20" fill="#fdbb04"/>
<rect x="621.20" y="299.30" width="8.68" height="8.20" fill="#fe7e07"/>
<rect x="629.28" y="299.30" width="8.68" height="8.20" fill="#fda805"/>
<rect x="637.36" y="299.30" width="8.68" height="8.20" fill="#fe7207"/>
<rect x="645.44" y="299.30" width="8.68" height="8.20" fill="#fe6208"/>
<rect x="653.52" y="299.30" width="8.68" height="8.20" fill="#fe7e07"/>
<rect x="661.60" y="299.30" width="8.68" height="8.20" fill="#fe7207"/>
<rect x="669.68" y="299.30" width="8.62" height="8.20" fill="#fe5309"/>
<rect x="532.50" y="306.90" width="8.50" height="8.69" fill="#f2fc04"/>
<rect x="540.40" y="306.90" width="8.68" height="8.69" fill="#9ef504"/>
<rect x="548.48" y="306.90" width="8.68" height="8.69" fill="#8af304"/>
<rect x="556.56" y="306.90" width="8.68" height="8.69" fill="#66f004"/>
<rect x="564.64" y="306.90" width="8.68" height="8.69" fill="#9ef504"/>
<rect x="572.72" y="306.90" width="8.68" height="8.69" fill="#bff804"/>
<rect x="580.80" y="306.90" width="8.68" height="8.69" fill="#fcfc04"/>
<rect x="588.88" y="306.90" width="8.68" height="8.69" fill="#fda805"/>
<rect x="596.96" y="306.90" width="8.68" height="8.69" fill="#fdcc04"/>
<rect x="605.04" y="306.90" width="8.68" height="8.69" fill="#fcfc04"/>
<rect x="613.12" y="306.90" width="8.68" height="8.69" fill="#fdbb04"/>
<rect x="621.20" y="306.90" width="8.68" height="8.69" fill="#f2fc04"/>
<rect x="629.28" y="306.90" width="8.68" height="8.69" fill="#fda805"/>
<rect x="637.36" y="306.90" width="16.76" height="8.69" fill="#fdcc04"/>
<rect x="653.52" y="306.90" width="8.68" height="8.69" fill="#fdd404"/>
<rect x="661.60" y="306.90" width="8.68" height="8.69" fill="#fe9006"/>
<rect x="669.68" y="306.90" width="8.62" height="8.69" fill="#fe5309"/>
<rect x="532.50" y="314.99" width="8.50" height="8.69" fill="#f2fc04"/>
<rect x="540.40" y="314.99" width="8.68" height="8.69" fill="#9ef504"/>
<rect x="548.48" y="314.99" width="8.68" height="8.69" fill="#8af304"/>
<rect x="556.56" y="314.99" width="8.68" height="8.69" fill="#76f204"/>
<rect x="564.64" y="314.99" width="8.68" height="8.69" fill="#8af304"/>
<rect x="572.72" y="314.99" width="8.68" height="8.69" fill="#b3f704"/>
<rect x="580.80" y="314.99" width="8.68" height="8.69" fill="#fdf304"/>
<rect x="588.88" y="314.99" width="8.68" height="8.69" fill="#d4f904"/>
<rect x="596.96" y="314.99" width="8.68" height="8.69" fill="#defa04"/>
<rect x="605.04" y="314.99" width="8.68" height="8.69" fill="#fdcc04"/>
<rect x="613.12" y="314.99" width="8.68" height="8.69" fill="#fcfc04"/>
<rect x="621.20" y="314.99" width="8.68" height="8.69" fill="#fe7e07"/>
<rect x="629.28" y="314.99" width="16.76" height="8.69" fill="#fcfc04"/>
<rect x="645.44" y="314.99" width="8.68" height="8.69" fill="#fdbb04"/>
<rect x="653.52" y="314.99" width="8.68" height="8.69" fill="#fcfc04"/>
<rect x="661.60" y="314.99" width="8.68" height="8.69" fill="#fd9606"/>
<rect x="669.68" y="314.99" width="8.62" height="8.69" fill="#fe5908"/>
<rect x="532.50" y="323.08" width="8.50" height="8.69" fill="#f2fc04"/>
<rect x="540.40" y="323.08" width="8.68" height="8.69" fill="#9ef504"/>
<rect x="548.48" y="323.08" width="8.68" height="8.69" fill="#66f004"/>
<rect x="556.56" y="323.08" width="16.76" height="8.69" fill="#76f204"/>
<rect x="572.72" y="323.08" width="8.68" height="8.69" fill="#b3f704"/>
<rect x="580.80" y="323.08" width="8.68" height="8.69" fill="#bff804"/>
<rect x="588.88" y="323.08" width="8.68" height="8.69" fill="#b3f704"/>
<rect x="596.96" y="323.08" width="8.68" height="8.69" fill="#bff804"/>
<rect x="605.04" y="323.08" width="8.68" height="8.69" fill="#e8fb04"/>
<rect x="613.12" y="323.08" width="16.76" height="8.69" fill="#fcfc04"/>
<rect x="629.28" y="323.08" width="8.68" height="8.69" fill="#e8fb04"/>
<rect x="637.36" y="323.08" width="16.76" height="8.69" fill="#fcfc04"/>
<rect x="653.52" y="323.08" width="8.68" height="8.69" fill="#f2fc04"/>
<rect x="661.60" y="323.08" width="8.68" height="8.69" fill="#fdbb04"/>
<rect x="669.68" y="323.08" width="8.62" height="8.69" fill="#fe6808"/>
<rect x="532.50" y="331.17" width="8.50" height="8.69" fill="#fddc04"/>
<rect x="540.40" y="331.17" width="8.68" height="8.69" fill="#fdf304"/>
<rect x="548.48" y="331.17" width="8.68" height="8.69" fill="#bff804"/>
<rect x="556.56" y="331.17" width="8.68" height="8.69" fill="#66f004"/>
<rect x="564.64" y="331.17" width="8.68" height="8.69" fill="#3deb04"/>
<rect x="572.72" y="331.17" width="8.68" height="8.69" fill="#9ef504"/>
<rect x="580.80" y="331.17" width="8.68" height="8.69" fill="#8af304"/>
<rect x="588.88" y="331.17" width="8.68" height="8.69" fill="#9ef504"/>
<rect x="596.96" y="331.17" width="8.68" height="8.69" fill="#8af304"/>
<rect x="605.04" y="331.17" width="8.68" height="8.69" fill="#66f004"/>
<rect x="613.12" y="331.17" width="8.68" height="8.69" fill="#bff804"/>
<rect x="621.20" y="331.17" width="8.68" height="8.69" fill="#fcfc04"/>
<rect x="629.28" y="331.17" width="8.68" height="8.69" fill="#9ef504"/>
<rect x="637.36" y="331.17" width="8.68" height="8.69" fill="#b3f704"/>
<rect x="645.44" y="331.17" width="8.68" height="8.69" fill="#9ef504"/>
<rect x="653.52" y="331.17" width="8.68" height="8.69" fill="#bff804"/>
<rect x="661.60" y="331.17" width="8.68" height="8.69" fill="#e8fb04"/>
<rect x="669.68" y="331.17" width="8.62" height="8.69" fill="#bff804"/>
<rect x="532.50" y="339.26" width="8.50" height="8.69" fill="#fdbb04"/>
<rect x="540.40" y="339.26" width="8.68" height="8.69" fill="#fdd404"/>
<rect x="548.48" y="339.26" width="8.68" height="8.69" fill="#8af304"/>
<rect x="556.56" y="339.26" width="8.68" height="8.69" fill="#76f204"/>
<rect x="564.64" y="339.26" width="8.68" height="8.69" fill="#8af304"/>
<rect x="572.72" y="339.26" width="8.68" height="8.69" fill="#03e303"/>
<rect x="580.80" y="339.26" width="8.68" height="8.69" fill="#8af304"/>
<rect x="588.88" y="339.26" width="8.68" height="8.69" fill="#76f204"/>
<rect x="596.96" y="339.26" width="8.68" height="8.69" fill="#3deb04"/>
<rect x="605.04" y="339.26" width="8.68" height="8.69" fill="#03e303"/>
<rect x="613.12" y="339.26" width="8.68" height="8.69" fill="#66f004"/>
<rect x="621.20" y="339.26" width="8.68" height="8.69" fill="#bff804"/>
<rect x="629.28" y="339.26" width="8.68" height="8.69" fill="#3deb04"/>
<rect x="637.36" y="339.26" width="8.68" height="8.69" fill="#51ed04"/>
<rect x="645.44" y="339.26" width="8.68" height="8.69" fill="#f2fc04"/>
<rect x="653.52" y="339.26" width="8.68" height="8.69" fill="#3deb04"/>
<rect x="661.60" y="339.26" width="16.70" height="8.69" fill="#9ef504"/>
<rect x="532.50" y="347.35" width="8.50" height="8.69" fill="#fe360a"/>
<rect x="540.40" y="347.35" width="8.68" height="8.69" fill="#fe7207"/>
<rect x="548.48" y="347.35" width="8.68" height="8.69" fill="#fd9f05"/>
<rect x="556.56" y="347.35" width="8.68" height="8.69" fill="#fcfc04"/>
<rect x="564.64" y="347.35" width="8.68" height="8.69" fill="#fde504"/>
<rect x="572.72" y="347.35" width="8.68" height="8.69" fill="#03e303"/>
<rect x="580.80" y="347.35" width="8.68" height="8.69" fill="#3deb04"/>
<rect x="588.88" y="347.35" width="8.68" height="8.69" fill="#2ae803"/>
<rect x="596.96" y="347.35" width="24.84" height="8.69" fill="#03e22a"/>
<rect x="621.20" y="347.35" width="8.68" height="8.69" fill="#03e303"/>
<rect x="629.28" y="347.35" width="8.68" height="8.69" fill="#03e22a"/>
<rect x="637.36" y="347.35" width="24.84" height="8.69" fill="#03e303"/>
<rect x="661.60" y="347.35" width="8.68" height="8.69" fill="#2ae803"/>
<rect x="669.68" y="347.35" width="8.62" height="8.69" fill="#b3f704"/>
<rect x="532.50" y="355.44" width="8.50" height="8.69" fill="#fe4a09"/>
<rect x="540.40" y="355.44" width="8.68" height="8.69" fill="#fe5309"/>
<rect x="548.48" y="355.44" width="8.68" height="8.69" fill="#fe7e07"/>
<rect x="556.56" y="355.44" width="8.68" height="8.69" fill="#fd9606"/>
<rect x="564.64" y="355.44" width="8.68" height="8.69" fill="#fdc404"/>
<rect x="572.72" y="355.44" width="8.68" height="8.69" fill="#e8fb04"/>
<rect x="580.80" y="355.44" width="8.68" height="8.69" fill="#3deb04"/>
<rect x="588.88" y="355.44" width="8.68" height="8.69" fill="#03e303"/>
<rect x="596.96" y="355.44" width="8.68" height="8.69" fill="#03e23d"/>
<rect x="605.04" y="355.44" width="8.68" height="8.69" fill="#03a9d5"/>
<rect x="613.12" y="355.44" width="8.68" height="8.69" fill="#03d9ab"/>
<rect x="621.20" y="355.44" width="16.76" height="8.69" fill="#03d4d4"/>
<rect x="637.36" y="355.44" width="8.68" height="8.69" fill="#03d9ab"/>
<rect x="645.44" y="355.44" width="8.68" height="8.69" fill="#03e240"/>
<rect x="653.52" y="355.44" width="8.68" height="8.69" fill="#03e22a"/>
<rect x="661.60" y="355.44" width="8.68" height="8.69" fill="#03e303"/>
<rect x="669.68" y="355.44" width="8.62" height="8.69" fill="#e8fb04"/>
<rect x="532.50" y="363.53" width="8.50" height="8.69" fill="#fe380a"/>
<rect x="540.40" y="363.53" width="8.68" height="8.69" fill="#fe3d0a"/>
<rect x="548.48" y="363.53" width="8.68" height="8.69" fill="#fe440a"/>
<rect x="556.56" y="363.53" width="8.68" height="8.69" fill="#fe5309"/>
<rect x="564.64" y="363.53" width="8.68" height="8.69" fill="#fe6208"/>
<rect x="572.72" y="363.53" width="8.68" height="8.69" fill="#fdc404"/>
<rect x="580.80" y="363.53" width="8.68" height="8.69" fill="#d4f904"/>
<rect x="588.88" y="363.53" width="8.68" height="8.69" fill="#51ed04"/>
<rect x="596.96" y="363.53" width="8.68" height="8.69" fill="#03a9d5"/>
<rect x="605.04" y="363.53" width="8.68" height="8.69" fill="#0326c5"/>
<rect x="613.12" y="363.53" width="8.68" height="8.69" fill="#03b2d4"/>
<rect x="621.20" y="363.53" width="8.68" height="8.69" fill="#0326c5"/>
<rect x="629.28" y="363.53" width="8.68" height="8.69" fill="#03d4d4"/>
<rect x="637.36" y="363.53" width="8.68" height="8.69" fill="#03d9ab"/>
<rect x="645.44" y="363.53" width="8.68" height="8.69" fill="#03e240"/>
<rect x="653.52" y="363.53" width="16.76" height="8.69" fill="#03e22a"/>
<rect x="669.68" y="363.53" width="8.62" height="8.69" fill="#9ef504"/>
<rect x="532.50" y="371.62" width="16.58" height="8.69" fill="#ff2f0b"/>
<rect x="548.48" y="371.62" width="8.68" height="8.69" fill="#fe380a"/>
<rect x="556.56" y="371.62" width="8.68" height="8.69" fill="#fe3d0a"/>
<rect x="564.64" y="371.62" width="8.68" height="8.69" fill="#fe440a"/>
<rect x="572.72" y="371.62" width="8.68" height="8.69" fill="#fe6208"/>
<rect x="580.80" y="371.62" width="8.68" height="8.69" fill="#fda805"/>
<rect x="588.88" y="371.62" width="8.68" height="8.69" fill="#b3f704"/>
<rect x="596.96" y="371.62" width="8.68" height="8.69" fill="#03e154"/>
<rect x="605.04" y="371.62" width="8.68" height="8.69" fill="#038fd5"/>
<rect x="613.12" y="371.62" width="8.68" height="8.69" fill="#03b2d4"/>
<rect x="621.20" y="371.62" width="8.68" height="8.69" fill="#03d7bb"/>
<rect x="629.28" y="371.62" width="8.68" height="8.69" fill="#03d4d4"/>
<rect x="637.36" y="371.62" width="8.68" height="8.69" fill="#038fd5"/>
<rect x="645.44" y="371.62" width="8.68" height="8.69" fill="#03d9ab"/>
<rect x="653.52" y="371.62" width="8.68" height="8.69" fill="#03e240"/>
<rect x="661.60" y="371.62" width="8.68" height="8.69" fill="#03e22a"/>
<rect x="669.68" y="371.62" width="8.62" height="8.69" fill="#51ed04"/>
<rect x="532.50" y="379.71" width="24.66" height="8.69" fill="#ff2f0b"/>
<rect x="556.56" y="379.71" width="8.68" height="8.69" fill="#fe3d0a"/>
<rect x="564.64" y="379.71" width="8.68" height="8.69" fill="#fe380a"/>
<rect x="572.72" y="379.71" width="8.68" height="8.69" fill="#fe440a"/>
<rect x="580.80" y="379.71" width="8.68" height="8.69" fill="#fe7e07"/>
<rect x="588.88" y="379.71" width="8.68" height="8.69" fill="#b3f704"/>
<rect x="596.96" y="379.71" width="8.68" height="8.69" fill="#03e303"/>
<rect x="605.04" y="379.71" width="8.68" height="8.69" fill="#0398d5"/>
<rect x="613.12" y="379.71" width="16.76" height="8.69" fill="#038fd5"/>
<rect x="629.28" y="379.71" width="8.68" height="8.69" fill="#03d4d4"/>
<rect x="637.36" y="379.71" width="8.68" height="8.69" fill="#034ad0"/>
<rect x="645.44" y="379.71" width="8.68" height="8.69" fill="#03b2d4"/>
<rect x="653.52" y="379.71" width="8.68" height="8.69" fill="#03e240"/>
<rect x="661.60" y="379.71" width="8.68" height="8.69" fill="#03e22a"/>
<rect x="669.68" y="379.71" width="8.62" height="8.69" fill="#03e303"/>
<rect x="532.50" y="387.80" width="40.82" height="8.69" fill="#ff2f0b"/>
<rect x="572.72" y="387.80" width="8.68" height="8.69" fill="#fe6208"/>
<rect x="580.80" y="387.80" width="8.68" height="8.69" fill="#fe5309"/>
<rect x="588.88" y="387.80" width="8.68" height="8.69" fill="#fd9606"/>
<rect x="596.96" y="387.80" width="8.68" height="8.69" fill="#03e22a"/>
<rect x="605.04" y="387.80" width="8.68" height="8.69" fill="#3deb04"/>
<rect x="613.12" y="387.80" width="8.68" height="8.69" fill="#0387d6"/>
<rect x="621.20" y="387.80" width="8.68" height="8.69" fill="#03c2d4"/>
<rect x="629.28" y="387.80" width="8.68" height="8.69" fill="#034ad0"/>
<rect x="637.36" y="387.80" width="16.76" height="8.69" fill="#03b2d4"/>
<rect x="653.52" y="387.80" width="8.68" height="8.69" fill="#03a0d5"/>
<rect x="661.60" y="387.80" width="8.68" height="8.69" fill="#03d9ab"/>
<rect x="669.68" y="387.80" width="8.62" height="8.69" fill="#03e22a"/>
<rect x="532.50" y="395.89" width="40.82" height="8.69" fill="#ff2f0b"/>
<rect x="572.72" y="395.89" width="8.68" height="8.69" fill="#fe440a"/>
<rect x="580.80" y="395.89" width="8.68" height="8.69" fill="#fe7207"/>
<rect x="588.88" y="395.89" width="8.68" height="8.69" fill="#fdcc04"/>
<rect x="596.96" y="395.89" width="8.68" height="8.69" fill="#03e154"/>
<rect x="605.04" y="395.89" width="8.68" height="8.69" fill="#034ad0"/>
<rect x="613.12" y="395.89" width="8.68" height="8.69" fill="#037ed6"/>
<rect x="621.20" y="395.89" width="8.68" height="8.69" fill="#03db9a"/>
<rect x="629.28" y="395.89" width="8.68" height="8.69" fill="#03d4d4"/>
<rect x="637.36" y="395.89" width="16.76" height="8.69" fill="#03d9ab"/>
<rect x="653.52" y="395.89" width="8.68" height="8.69" fill="#03b2d4"/>
<rect x="661.60" y="395.89" width="8.68" height="8.69" fill="#03d9ab"/>
<rect x="669.68" y="395.89" width="8.62" height="8.69" fill="#03e22a"/>
<rect x="532.50" y="403.98" width="32.74" height="8.69" fill="#ff2f0b"/>
<rect x="564.64" y="403.98" width="8.68" height="8.69" fill="#fe440a"/>
<rect x="572.72" y="403.98" width="8.68" height="8.69" fill="#fe380a"/>
<rect x="580.80" y="403.98" width="8.68" height="8.69" fill="#fe7e07"/>
<rect x="588.88" y="403.98" width="8.68" height="8.69" fill="#fe360a"/>
<rect x="596.96" y="403.98" width="8.68" height="8.69" fill="#03e303"/>
<rect x="605.04" y="403.98" width="8.68" height="8.69" fill="#03e22a"/>
<rect x="613.12" y="403.98" width="8.68" height="8.69" fill="#0387d6"/>
<rect x="621.20" y="403.98" width="8.68" height="8.69" fill="#03a9d5"/>
<rect x="629.28" y="403.98" width="8.68" height="8.69" fill="#03db9a"/>
<rect x="637.36" y="403.98" width="16.76" height="8.69" fill="#03d4d4"/>
<rect x="653.52" y="403.98" width="16.76" height="8.69" fill="#03d9ab"/>
<rect x="669.68" y="403.98" width="8.62" height="8.69" fill="#03e22a"/>
<rect x="532.50" y="412.07" width="48.90" height="8.69" fill="#ff2f0b"/>
<rect x="580.80" y="412.07" width="8.68" height="8.69" fill="#fdcc04"/>
<rect x="588.88" y="412.07" width="8.68" height="8.69" fill="#fdbb04"/>
<rect x="596.96" y="412.07" width="8.68" height="8.69" fill="#e8fb04"/>
<rect x="605.04" y="412.07" width="8.68" height="8.69" fill="#3deb04"/>
<rect x="613.12" y="412.07" width="8.68" height="8.69" fill="#03e240"/>
<rect x="621.20" y="412.07" width="8.68" height="8.69" fill="#03d9ab"/>
<rect x="629.28" y="412.07" width="8.68" height="8.69" fill="#03a9d5"/>
<rect x="637.36" y="412.07" width="8.68" height="8.69" fill="#03b2d4"/>
<rect x="645.44" y="412.07" width="8.68" height="8.69" fill="#035ed4"/>
<rect x="653.52" y="412.07" width="16.76" height="8.69" fill="#03d4d4"/>
<rect x="669.68" y="412.07" width="8.62" height="8.69" fill="#03e23d"/>
<rect x="532.50" y="420.16" width="48.90" height="8.69" fill="#ff2f0b"/>
<rect x="580.80" y="420.16" width="8.68" height="8.69" fill="#fe440a"/>
<rect x="588.88" y="420.16" width="8.68" height="8.69" fill="#8af304"/>
<rect x="596.96" y="420.16" width="8.68" height="8.69" fill="#03e22a"/>
<rect x="605.04" y="420.16" width="8.68" height="8.69" fill="#03e23d"/>
<rect x="613.12" y="420.16" width="8.68" height="8.69" fill="#03d9ab"/>
<rect x="621.20" y="420.16" width="16.76" height="8.69" fill="#03d4d4"/>
<rect x="637.36" y="420.16" width="8.68" height="8.69" fill="#0387d6"/>
<rect x="645.44" y="420.16" width="8.68" height="8.69" fill="#03db9a"/>
<rect x="653.52" y="420.16" width="8.68" height="8.69" fill="#03d4d4"/>
<rect x="661.60" y="420.16" width="8.68" height="8.69" fill="#03d5cb"/>
<rect x="669.68" y="420.16" width="8.62" height="8.69" fill="#03e23d"/>
<rect x="532.50" y="428.25" width="48.90" height="8.69" fill="#ff2f0b"/>
<rect x="580.80" y="428.25" width="8.68" height="8.69" fill="#fe5309"/>
<rect x="588.88" y="428.25" width="8.68" height="8.69" fill="#e8fb04"/>
<rect x="596.96" y="428.25" width="8.68" height="8.69" fill="#bff804"/>
<rect x="605.04" y="428.25" width="8.68" height="8.69" fill="#03d9ab"/>
<rect x="613.12" y="428.25" width="8.68" height="8.69" fill="#03d4d4"/>
<rect x="621.20" y="428.25" width="8.68" height="8.69" fill="#03a9d5"/>
<rect x="629.28" y="428.25" width="8.68" height="8.69" fill="#03d6c3"/>
<rect x="637.36" y="428.25" width="8.68" height="8.69" fill="#03db9a"/>
<rect x="645.44" y="428.25" width="8.68" height="8.69" fill="#03e154"/>
<rect x="653.52" y="428.25" width="8.68" height="8.69" fill="#03db9a"/>
<rect x="661.60" y="428.25" width="8.68" height="8.69" fill="#03e22a"/>
<rect x="669.68" y="428.25" width="8.62" height="8.69" fill="#2ae803"/>
<rect x="532.50" y="436.34" width="48.90" height="8.69" fill="#ff2f0b"/>
<rect x="580.80" y="436.34" width="8.68" height="8.69" fill="#fda805"/>
<rect x="588.88" y="436.34" width="8.68" height="8.69" fill="#fcfc04"/>
<rect x="596.96" y="436.34" width="8.68" height="8.69" fill="#03e303"/>
<rect x="605.04" y="436.34" width="8.68" height="8.69" fill="#03d9ab"/>
<rect x="613.12" y="436.34" width="8.68" height="8.69" fill="#038fd5"/>
<rect x="621.20" y="436.34" width="8.68" height="8.69" fill="#03d4d4"/>
<rect x="629.28" y="436.34" width="8.68" height="8.69" fill="#0375d6"/>
<rect x="637.36" y="436.34" width="8.68" height="8.69" fill="#03db9a"/>
<rect x="645.44" y="436.34" width="8.68" height="8.69" fill="#03e154"/>
<rect x="653.52" y="436.34" width="8.68" height="8.69" fill="#03e240"/>
<rect x="661.60" y="436.34" width="8.68" height="8.69" fill="#03e303"/>
<rect x="669.68" y="436.34" width="8.62" height="8.69" fill="#66f004"/>
<rect x="532.50" y="444.43" width="40.82" height="8.69" fill="#ff2f0b"/>
<rect x="572.72" y="444.43" width="8.68" height="8.69" fill="#fe7207"/>
<rect x="580.80" y="444.43" width="8.68" height="8.69" fill="#fdcc04"/>
<rect x="588.88" y="444.43" width="8.68" height="8.69" fill="#e8fb04"/>
<rect x="596.96" y="444.43" width="8.68" height="8.69" fill="#03e303"/>
<rect x="605.04" y="444.43" width="8.68" height="8.69" fill="#03e22a"/>
<rect x="613.12" y="444.43" width="16.76" height="8.69" fill="#03e154"/>
<rect x="629.28" y="444.43" width="8.68" height="8.69" fill="#03d9ab"/>
<rect x="637.36" y="444.43" width="8.68" height="8.69" fill="#03d5cb"/>
<rect x="645.44" y="444.43" width="8.68" height="8.69" fill="#03db9a"/>
<rect x="653.52" y="444.43" width="8.68" height="8.69" fill="#03e240"/>
<rect x="661.60" y="444.43" width="8.68" height="8.69" fill="#03e22a"/>
<rect x="669.68" y="444.43" width="8.62" height="8.69" fill="#2ae803"/>
<rect x="532.50" y="452.52" width="48.90" height="7.68" fill="#ff2f0b"/>
<rect x="580.80" y="452.52" width="8.68" height="7.68" fill="#fe380a"/>
<rect x="588.88" y="452.52" width="8.68" height="7.68" fill="#bff804"/>
<rect x="596.96" y="452.52" width="8.68" height="7.68" fill="#e8fb04"/>
<rect x="605.04" y="452.52" width="24.84" height="7.68" fill="#03e22a"/>
<rect x="629.28" y="452.52" width="8.68" height="7.68" fill="#03e154"/>
<rect x="637.36" y="452.52" width="8.68" height="7.68" fill="#03d9ab"/>
<rect x="645.44" y="452.52" width="8.68" height="7.68" fill="#03e154"/>
<rect x="653.52" y="452.52" width="16.76" height="7.68" fill="#03e22a"/>
<rect x="669.68" y="452.52" width="8.62" height="7.68" fill="#03e303"/>
</g></g>
<rect x="535.8" y="302.6" width="139.2" height="154.3" fill="none" stroke="#111" stroke-width="1.2"/>
<path d="M532.8 454.0H535.8" stroke="#111" stroke-width="1"/>
<text x="532.5" y="458.0" text-anchor="end" font-size="11.5" font-weight="normal" fill="#111">0</text>
<path d="M532.8 438.0H535.8" stroke="#111" stroke-width="1"/>
<text x="532.5" y="442.0" text-anchor="end" font-size="11.5" font-weight="normal" fill="#111">10</text>
<path d="M532.8 422.0H535.8" stroke="#111" stroke-width="1"/>
<text x="532.5" y="426.0" text-anchor="end" font-size="11.5" font-weight="normal" fill="#111">20</text>
<path d="M532.8 406.0H535.8" stroke="#111" stroke-width="1"/>
<text x="532.5" y="410.0" text-anchor="end" font-size="11.5" font-weight="normal" fill="#111">30</text>
<path d="M532.8 390.0H535.8" stroke="#111" stroke-width="1"/>
<text x="532.5" y="394.0" text-anchor="end" font-size="11.5" font-weight="normal" fill="#111">40</text>
<path d="M532.8 374.0H535.8" stroke="#111" stroke-width="1"/>
<text x="532.5" y="378.0" text-anchor="end" font-size="11.5" font-weight="normal" fill="#111">50</text>
<path d="M532.8 358.0H535.8" stroke="#111" stroke-width="1"/>
<text x="532.5" y="362.0" text-anchor="end" font-size="11.5" font-weight="normal" fill="#111">60</text>
<path d="M532.8 342.0H535.8" stroke="#111" stroke-width="1"/>
<text x="532.5" y="346.0" text-anchor="end" font-size="11.5" font-weight="normal" fill="#111">70</text>
<path d="M532.8 326.0H535.8" stroke="#111" stroke-width="1"/>
<text x="532.5" y="330.0" text-anchor="end" font-size="11.5" font-weight="normal" fill="#111">80</text>
<path d="M532.8 310.0H535.8" stroke="#111" stroke-width="1"/>
<text x="532.5" y="314.0" text-anchor="end" font-size="11.5" font-weight="normal" fill="#111">90</text>
<path d="M543.3 456.9V460" stroke="#111" stroke-width="1"/>
<text x="543.3" y="470.3" text-anchor="middle" font-size="11.5" font-weight="normal" fill="#111">0</text>
<path d="M559.4 456.9V460" stroke="#111" stroke-width="1"/>
<text x="559.4" y="470.3" text-anchor="middle" font-size="11.5" font-weight="normal" fill="#111">10</text>
<path d="M575.5 456.9V460" stroke="#111" stroke-width="1"/>
<text x="575.5" y="470.3" text-anchor="middle" font-size="11.5" font-weight="normal" fill="#111">20</text>
<path d="M591.6 456.9V460" stroke="#111" stroke-width="1"/>
<text x="591.6" y="470.3" text-anchor="middle" font-size="11.5" font-weight="normal" fill="#111">30</text>
<path d="M607.7 456.9V460" stroke="#111" stroke-width="1"/>
<text x="607.7" y="470.3" text-anchor="middle" font-size="11.5" font-weight="normal" fill="#111">40</text>
<path d="M623.8 456.9V460" stroke="#111" stroke-width="1"/>
<text x="623.8" y="470.3" text-anchor="middle" font-size="11.5" font-weight="normal" fill="#111">50</text>
<path d="M639.9 456.9V460" stroke="#111" stroke-width="1"/>
<text x="639.9" y="470.3" text-anchor="middle" font-size="11.5" font-weight="normal" fill="#111">60</text>
<path d="M656.0 456.9V460" stroke="#111" stroke-width="1"/>
<text x="656.0" y="470.3" text-anchor="middle" font-size="11.5" font-weight="normal" fill="#111">70</text>
<path d="M672.1 456.9V460" stroke="#111" stroke-width="1"/>
<text x="672.1" y="470.3" text-anchor="middle" font-size="11.5" font-weight="normal" fill="#111">80</text>
<text x="518.5" y="297.2" text-anchor="start" font-size="11.7" font-weight="normal" fill="#111">y (μm)</text>
<text x="606.5" y="482.6" text-anchor="middle" font-size="12.2" font-weight="normal" fill="#111">x (μm)</text>
<text x="671.0" y="316.0" text-anchor="end" font-size="11.8" font-weight="normal" fill="#111">Area 9</text>
<path d="M603.2 383.8H614.6M608.9 378.1V389.5" stroke="#c83818" stroke-width="1.7" fill="none"/>
</svg>
</body></html>
